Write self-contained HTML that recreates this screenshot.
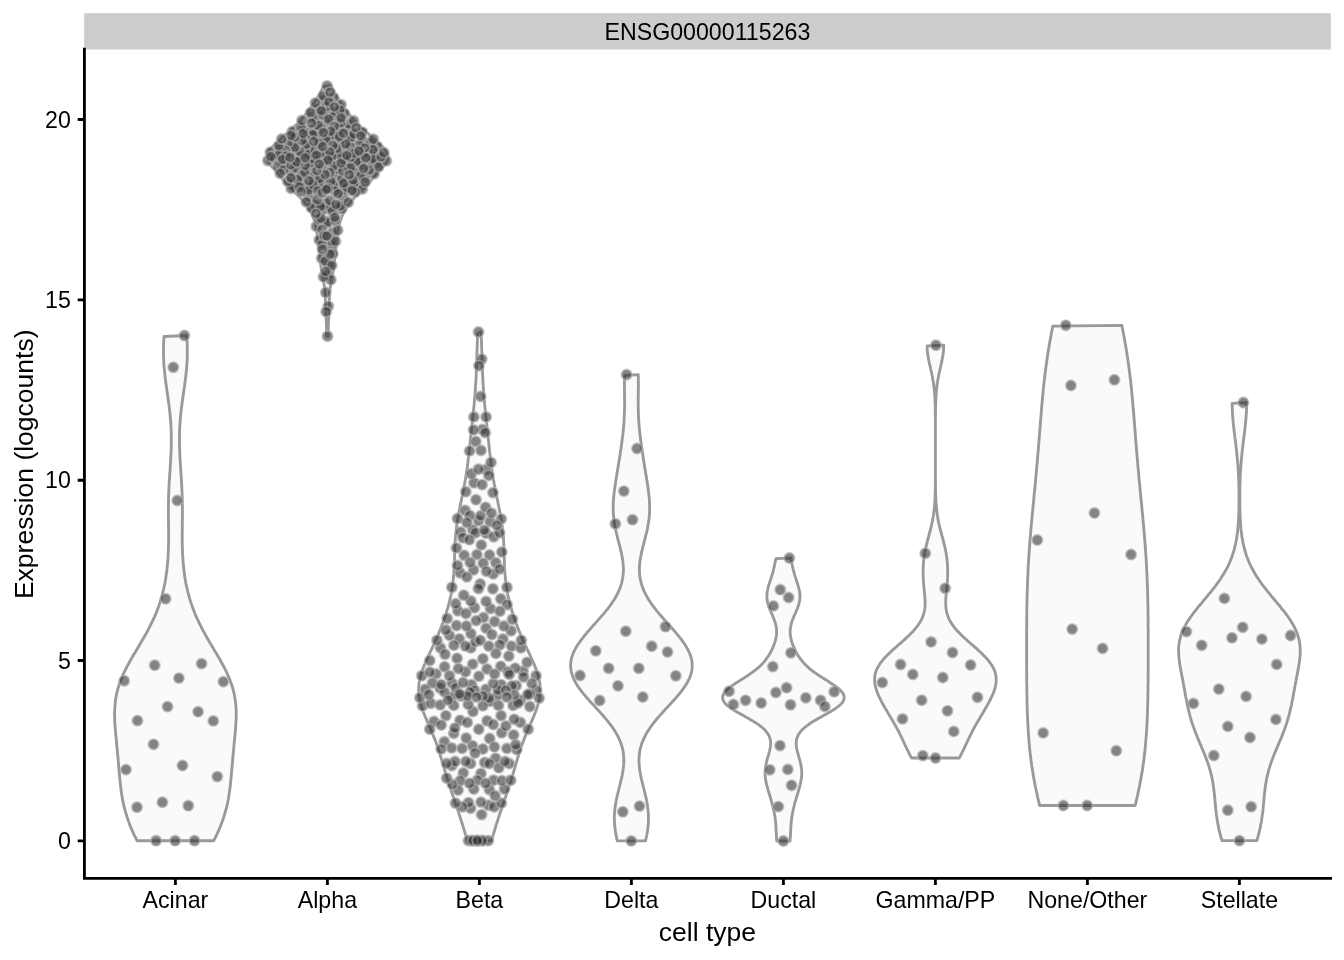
<!DOCTYPE html>
<html><head><meta charset="utf-8">
<style>
html,body{margin:0;padding:0;background:#fff;}
svg{display:block;will-change:transform;}
text{font-family:"Liberation Sans",sans-serif;fill:#000;}
</style></head>
<body>
<svg width="1344" height="960" viewBox="0 0 1344 960">
<rect x="0" y="0" width="1344" height="960" fill="#fff"/>
<!-- strip -->
<rect x="84.2" y="13.2" width="1246.6" height="36.3" fill="#cccccc"/>
<text x="707.4" y="39.8" font-size="23.2" text-anchor="middle">ENSG00000115263</text>
<g fill="#e5e5e5" fill-opacity="0.2" stroke="#999999" stroke-width="2.85" stroke-linejoin="round"><path d="M137.0 840.7 L136.0 838.7 L135.1 836.7 L134.1 834.8 L133.2 832.8 L132.3 830.8 L131.5 828.8 L130.6 826.9 L129.8 824.9 L129.1 822.9 L128.4 820.9 L127.7 818.9 L127.0 817.0 L126.4 815.0 L125.8 813.0 L125.2 811.0 L124.7 809.1 L124.2 807.1 L123.7 805.1 L123.3 803.1 L122.9 801.2 L122.5 799.2 L122.2 797.2 L121.8 795.2 L121.5 793.2 L121.2 791.3 L121.0 789.3 L120.7 787.3 L120.5 785.3 L120.3 783.4 L120.1 781.4 L119.9 779.4 L119.7 777.4 L119.5 775.4 L119.3 773.5 L119.1 771.5 L119.0 769.5 L118.8 767.5 L118.6 765.6 L118.5 763.6 L118.3 761.6 L118.1 759.6 L118.0 757.7 L117.8 755.7 L117.6 753.7 L117.4 751.7 L117.2 749.7 L117.0 747.8 L116.8 745.8 L116.7 743.8 L116.5 741.8 L116.3 739.9 L116.1 737.9 L115.9 735.9 L115.7 733.9 L115.5 731.9 L115.3 730.0 L115.2 728.0 L115.0 726.0 L114.9 724.0 L114.8 722.1 L114.7 720.1 L114.7 718.1 L114.6 716.1 L114.6 714.2 L114.6 712.2 L114.7 710.2 L114.8 708.2 L114.9 706.2 L115.1 704.3 L115.3 702.3 L115.5 700.3 L115.8 698.3 L116.2 696.4 L116.5 694.4 L117.0 692.4 L117.5 690.4 L118.0 688.4 L118.6 686.5 L119.2 684.5 L119.9 682.5 L120.7 680.5 L121.4 678.6 L122.3 676.6 L123.1 674.6 L124.0 672.6 L125.0 670.7 L126.0 668.7 L127.0 666.7 L128.0 664.7 L129.1 662.7 L130.2 660.8 L131.3 658.8 L132.5 656.8 L133.6 654.8 L134.8 652.9 L136.0 650.9 L137.2 648.9 L138.3 646.9 L139.5 644.9 L140.7 643.0 L141.8 641.0 L143.0 639.0 L144.1 637.0 L145.3 635.1 L146.4 633.1 L147.4 631.1 L148.5 629.1 L149.5 627.2 L150.5 625.2 L151.5 623.2 L152.5 621.2 L153.4 619.2 L154.3 617.3 L155.1 615.3 L156.0 613.3 L156.8 611.3 L157.5 609.4 L158.3 607.4 L159.0 605.4 L159.6 603.4 L160.3 601.4 L160.9 599.5 L161.5 597.5 L162.0 595.5 L162.5 593.5 L163.0 591.6 L163.5 589.6 L163.9 587.6 L164.4 585.6 L164.8 583.7 L165.1 581.7 L165.5 579.7 L165.8 577.7 L166.1 575.7 L166.4 573.8 L166.7 571.8 L166.9 569.8 L167.1 567.8 L167.3 565.9 L167.5 563.9 L167.7 561.9 L167.8 559.9 L168.0 557.9 L168.1 556.0 L168.2 554.0 L168.3 552.0 L168.4 550.0 L168.4 548.1 L168.5 546.1 L168.5 544.1 L168.6 542.1 L168.6 540.2 L168.6 538.2 L168.6 536.2 L168.6 534.2 L168.6 532.2 L168.6 530.3 L168.5 528.3 L168.5 526.3 L168.5 524.3 L168.5 522.4 L168.5 520.4 L168.4 518.4 L168.4 516.4 L168.4 514.4 L168.4 512.5 L168.4 510.5 L168.4 508.5 L168.4 506.5 L168.4 504.6 L168.5 502.6 L168.5 500.6 L168.6 498.6 L168.6 496.6 L168.7 494.7 L168.7 492.7 L168.8 490.7 L168.9 488.7 L169.0 486.8 L169.1 484.8 L169.2 482.8 L169.3 480.8 L169.5 478.9 L169.6 476.9 L169.7 474.9 L169.8 472.9 L170.0 470.9 L170.1 469.0 L170.2 467.0 L170.4 465.0 L170.5 463.0 L170.6 461.1 L170.7 459.1 L170.8 457.1 L170.9 455.1 L171.0 453.1 L171.1 451.2 L171.2 449.2 L171.2 447.2 L171.3 445.2 L171.3 443.3 L171.3 441.3 L171.3 439.3 L171.3 437.3 L171.3 435.4 L171.3 433.4 L171.2 431.4 L171.1 429.4 L171.0 427.4 L170.9 425.5 L170.8 423.5 L170.7 421.5 L170.5 419.5 L170.3 417.6 L170.2 415.6 L170.0 413.6 L169.7 411.6 L169.5 409.6 L169.3 407.7 L169.0 405.7 L168.8 403.7 L168.5 401.7 L168.2 399.8 L168.0 397.8 L167.7 395.8 L167.4 393.8 L167.1 391.9 L166.8 389.9 L166.6 387.9 L166.3 385.9 L166.0 383.9 L165.7 382.0 L165.5 380.0 L165.2 378.0 L165.0 376.0 L164.8 374.1 L164.6 372.1 L164.4 370.1 L164.2 368.1 L164.0 366.1 L163.9 364.2 L163.8 362.2 L163.7 360.2 L163.6 358.2 L163.5 356.3 L163.5 354.3 L163.5 352.3 L163.5 350.3 L163.5 348.4 L163.5 346.4 L163.6 344.4 L163.7 342.4 L163.8 340.4 L163.9 338.5 L164.1 336.5 L186.6 335.5 L186.8 337.5 L186.9 339.5 L187.1 341.4 L187.2 343.4 L187.2 345.4 L187.3 347.4 L187.3 349.3 L187.3 351.3 L187.3 353.3 L187.3 355.3 L187.3 357.3 L187.2 359.2 L187.1 361.2 L187.0 363.2 L186.8 365.2 L186.7 367.1 L186.5 369.1 L186.3 371.1 L186.1 373.1 L185.9 375.0 L185.7 377.0 L185.4 379.0 L185.2 381.0 L184.9 383.0 L184.7 384.9 L184.4 386.9 L184.1 388.9 L183.8 390.9 L183.5 392.8 L183.2 394.8 L183.0 396.8 L182.7 398.8 L182.4 400.8 L182.1 402.7 L181.9 404.7 L181.6 406.7 L181.4 408.7 L181.2 410.6 L180.9 412.6 L180.7 414.6 L180.5 416.6 L180.4 418.5 L180.2 420.5 L180.1 422.5 L179.9 424.5 L179.8 426.5 L179.7 428.4 L179.6 430.4 L179.6 432.4 L179.5 434.4 L179.5 436.3 L179.5 438.3 L179.5 440.3 L179.5 442.3 L179.5 444.3 L179.5 446.2 L179.6 448.2 L179.7 450.2 L179.7 452.2 L179.8 454.1 L179.9 456.1 L180.0 458.1 L180.1 460.1 L180.3 462.0 L180.4 464.0 L180.5 466.0 L180.6 468.0 L180.8 470.0 L180.9 471.9 L181.0 473.9 L181.2 475.9 L181.3 477.9 L181.4 479.8 L181.5 481.8 L181.6 483.8 L181.7 485.8 L181.8 487.8 L181.9 489.7 L182.0 491.7 L182.1 493.7 L182.2 495.7 L182.2 497.6 L182.3 499.6 L182.3 501.6 L182.3 503.6 L182.4 505.5 L182.4 507.5 L182.4 509.5 L182.4 511.5 L182.4 513.5 L182.4 515.4 L182.4 517.4 L182.4 519.4 L182.3 521.4 L182.3 523.3 L182.3 525.3 L182.3 527.3 L182.3 529.3 L182.2 531.3 L182.2 533.2 L182.2 535.2 L182.2 537.2 L182.2 539.2 L182.2 541.1 L182.3 543.1 L182.3 545.1 L182.3 547.1 L182.4 549.0 L182.5 551.0 L182.5 553.0 L182.6 555.0 L182.8 557.0 L182.9 558.9 L183.0 560.9 L183.2 562.9 L183.4 564.9 L183.6 566.8 L183.8 568.8 L184.0 570.8 L184.3 572.8 L184.5 574.8 L184.8 576.7 L185.1 578.7 L185.5 580.7 L185.8 582.7 L186.2 584.6 L186.6 586.6 L187.1 588.6 L187.5 590.6 L188.0 592.5 L188.5 594.5 L189.1 596.5 L189.6 598.5 L190.2 600.5 L190.9 602.4 L191.5 604.4 L192.2 606.4 L192.9 608.4 L193.7 610.3 L194.4 612.3 L195.2 614.3 L196.1 616.3 L197.0 618.3 L197.9 620.2 L198.8 622.2 L199.8 624.2 L200.8 626.2 L201.8 628.1 L202.8 630.1 L203.9 632.1 L205.0 634.1 L206.1 636.0 L207.2 638.0 L208.4 640.0 L209.5 642.0 L210.7 644.0 L211.9 645.9 L213.1 647.9 L214.2 649.9 L215.4 651.9 L216.6 653.8 L217.7 655.8 L218.9 657.8 L220.0 659.8 L221.1 661.8 L222.2 663.7 L223.3 665.7 L224.3 667.7 L225.3 669.7 L226.3 671.6 L227.2 673.6 L228.1 675.6 L229.0 677.6 L229.8 679.6 L230.5 681.5 L231.2 683.5 L231.9 685.5 L232.5 687.5 L233.1 689.4 L233.6 691.4 L234.0 693.4 L234.5 695.4 L234.8 697.3 L235.1 699.3 L235.4 701.3 L235.6 703.3 L235.8 705.3 L236.0 707.2 L236.1 709.2 L236.2 711.2 L236.2 713.2 L236.2 715.1 L236.2 717.1 L236.1 719.1 L236.0 721.1 L235.9 723.1 L235.8 725.0 L235.7 727.0 L235.5 729.0 L235.4 731.0 L235.2 732.9 L235.0 734.9 L234.8 736.9 L234.6 738.9 L234.4 740.8 L234.2 742.8 L234.0 744.8 L233.9 746.8 L233.7 748.8 L233.5 750.7 L233.3 752.7 L233.1 754.7 L232.9 756.7 L232.7 758.6 L232.6 760.6 L232.4 762.6 L232.2 764.6 L232.1 766.6 L231.9 768.5 L231.7 770.5 L231.6 772.5 L231.4 774.5 L231.2 776.4 L231.0 778.4 L230.8 780.4 L230.6 782.4 L230.4 784.3 L230.2 786.3 L230.0 788.3 L229.7 790.3 L229.4 792.3 L229.1 794.2 L228.8 796.2 L228.5 798.2 L228.1 800.2 L227.7 802.1 L227.3 804.1 L226.8 806.1 L226.4 808.1 L225.8 810.1 L225.3 812.0 L224.7 814.0 L224.1 816.0 L223.5 818.0 L222.8 819.9 L222.1 821.9 L221.3 823.9 L220.6 825.9 L219.8 827.8 L218.9 829.8 L218.0 831.8 L217.1 833.8 L216.2 835.8 L215.3 837.7 L214.3 839.7 L213.8 840.7Z"/><path d="M326.5 336.2 L326.5 335.3 L326.5 334.3 L326.5 333.3 L326.5 332.3 L326.5 331.4 L326.5 330.4 L326.5 329.4 L326.5 328.4 L326.5 327.4 L326.5 326.5 L326.4 325.5 L326.4 324.5 L326.4 323.5 L326.3 322.5 L326.3 321.6 L326.2 320.6 L326.2 319.6 L326.1 318.6 L326.1 317.6 L326.0 316.7 L325.9 315.7 L325.9 314.7 L325.8 313.7 L325.7 312.7 L325.7 311.8 L325.6 310.8 L325.6 309.8 L325.5 308.8 L325.5 307.8 L325.5 306.9 L325.5 305.9 L325.5 304.9 L325.4 303.9 L325.4 302.9 L325.4 302.0 L325.4 301.0 L325.4 300.0 L325.4 299.0 L325.4 298.0 L325.4 297.1 L325.3 296.1 L325.3 295.1 L325.2 294.1 L325.2 293.1 L325.1 292.2 L325.0 291.2 L324.9 290.2 L324.8 289.2 L324.6 288.2 L324.5 287.3 L324.3 286.3 L324.2 285.3 L324.0 284.3 L323.8 283.3 L323.6 282.4 L323.4 281.4 L323.3 280.4 L323.1 279.4 L322.9 278.4 L322.7 277.5 L322.5 276.5 L322.3 275.5 L322.1 274.5 L322.0 273.5 L321.8 272.6 L321.7 271.6 L321.5 270.6 L321.4 269.6 L321.2 268.6 L321.1 267.7 L321.0 266.7 L320.9 265.7 L320.7 264.7 L320.6 263.7 L320.5 262.8 L320.4 261.8 L320.3 260.8 L320.2 259.8 L320.1 258.8 L319.9 257.9 L319.8 256.9 L319.7 255.9 L319.6 254.9 L319.5 253.9 L319.3 253.0 L319.2 252.0 L319.1 251.0 L318.9 250.0 L318.8 249.0 L318.7 248.1 L318.6 247.1 L318.4 246.1 L318.3 245.1 L318.2 244.1 L318.1 243.2 L317.9 242.2 L317.8 241.2 L317.7 240.2 L317.6 239.2 L317.5 238.3 L317.4 237.3 L317.3 236.3 L317.2 235.3 L317.1 234.3 L317.0 233.4 L316.9 232.4 L316.7 231.4 L316.6 230.4 L316.4 229.4 L316.3 228.5 L316.1 227.5 L315.9 226.5 L315.7 225.5 L315.5 224.5 L315.3 223.6 L315.0 222.6 L314.7 221.6 L314.4 220.6 L314.1 219.6 L313.7 218.7 L313.4 217.7 L313.0 216.7 L312.6 215.7 L312.1 214.7 L311.7 213.8 L311.2 212.8 L310.7 211.8 L310.2 210.8 L309.6 209.9 L309.0 208.9 L308.4 207.9 L307.8 206.9 L307.2 205.9 L306.5 205.0 L305.7 204.0 L305.0 203.0 L304.2 202.0 L303.4 201.0 L302.5 200.1 L301.6 199.1 L300.7 198.1 L299.7 197.1 L298.7 196.1 L297.7 195.2 L296.7 194.2 L295.6 193.2 L294.6 192.2 L293.6 191.2 L292.5 190.3 L291.5 189.3 L290.6 188.3 L289.6 187.3 L288.7 186.3 L287.8 185.4 L286.9 184.4 L286.1 183.4 L285.3 182.4 L284.5 181.4 L283.7 180.5 L283.0 179.5 L282.2 178.5 L281.4 177.5 L280.6 176.5 L279.8 175.6 L279.0 174.6 L278.2 173.6 L277.3 172.6 L276.4 171.6 L275.5 170.7 L274.6 169.7 L273.7 168.7 L272.7 167.7 L271.9 166.7 L271.0 165.8 L270.2 164.8 L269.4 163.8 L268.7 162.8 L268.1 161.8 L267.6 160.9 L267.2 159.9 L266.9 158.9 L266.7 157.9 L266.6 156.9 L266.7 156.0 L266.8 155.0 L267.1 154.0 L267.5 153.0 L268.1 152.0 L268.7 151.1 L269.4 150.1 L270.2 149.1 L271.0 148.1 L271.9 147.1 L272.9 146.2 L273.9 145.2 L274.9 144.2 L275.9 143.2 L277.0 142.2 L278.1 141.3 L279.2 140.3 L280.3 139.3 L281.4 138.3 L282.5 137.3 L283.6 136.4 L284.7 135.4 L285.8 134.4 L286.9 133.4 L288.0 132.4 L289.1 131.5 L290.2 130.5 L291.3 129.5 L292.4 128.5 L293.4 127.5 L294.5 126.6 L295.5 125.6 L296.5 124.6 L297.5 123.6 L298.4 122.6 L299.4 121.7 L300.3 120.7 L301.2 119.7 L302.0 118.7 L302.8 117.7 L303.7 116.8 L304.5 115.8 L305.2 114.8 L306.0 113.8 L306.7 112.8 L307.5 111.9 L308.2 110.9 L308.9 109.9 L309.6 108.9 L310.3 107.9 L311.0 107.0 L311.7 106.0 L312.4 105.0 L313.1 104.0 L313.7 103.0 L314.4 102.1 L315.1 101.1 L315.7 100.1 L316.3 99.1 L317.0 98.1 L317.6 97.2 L318.2 96.2 L318.8 95.2 L319.4 94.2 L319.9 93.2 L320.5 92.3 L321.0 91.3 L321.5 90.3 L322.0 89.3 L322.4 88.3 L322.9 87.4 L323.3 86.4 L331.3 85.9 L331.7 86.9 L332.1 87.9 L332.6 88.8 L333.1 89.8 L333.5 90.8 L334.1 91.8 L334.6 92.8 L335.1 93.7 L335.7 94.7 L336.3 95.7 L336.9 96.7 L337.5 97.7 L338.1 98.6 L338.8 99.6 L339.4 100.6 L340.1 101.6 L340.7 102.6 L341.4 103.5 L342.1 104.5 L342.8 105.5 L343.5 106.5 L344.1 107.5 L344.8 108.4 L345.5 109.4 L346.3 110.4 L347.0 111.4 L347.7 112.4 L348.4 113.3 L349.2 114.3 L350.0 115.3 L350.7 116.3 L351.5 117.3 L352.4 118.2 L353.2 119.2 L354.1 120.2 L355.0 121.2 L355.9 122.2 L356.8 123.1 L357.8 124.1 L358.8 125.1 L359.8 126.1 L360.8 127.1 L361.9 128.0 L363.0 129.0 L364.0 130.0 L365.1 131.0 L366.2 132.0 L367.3 132.9 L368.4 133.9 L369.5 134.9 L370.6 135.9 L371.7 136.9 L372.9 137.8 L374.0 138.8 L375.1 139.8 L376.2 140.8 L377.3 141.8 L378.3 142.7 L379.4 143.7 L380.4 144.7 L381.4 145.7 L382.4 146.7 L383.4 147.6 L384.2 148.6 L385.0 149.6 L385.8 150.6 L386.4 151.5 L387.0 152.5 L387.5 153.5 L387.8 154.5 L388.1 155.5 L388.2 156.4 L388.2 157.4 L388.1 158.4 L387.8 159.4 L387.4 160.4 L387.0 161.3 L386.4 162.3 L385.8 163.3 L385.0 164.3 L384.2 165.3 L383.4 166.2 L382.5 167.2 L381.6 168.2 L380.7 169.2 L379.8 170.2 L378.9 171.1 L378.0 172.1 L377.1 173.1 L376.2 174.1 L375.4 175.1 L374.6 176.0 L373.8 177.0 L373.0 178.0 L372.2 179.0 L371.5 180.0 L370.7 180.9 L369.9 181.9 L369.1 182.9 L368.3 183.9 L367.4 184.9 L366.6 185.8 L365.7 186.8 L364.7 187.8 L363.8 188.8 L362.8 189.8 L361.8 190.7 L360.7 191.7 L359.7 192.7 L358.7 193.7 L357.6 194.7 L356.6 195.6 L355.6 196.6 L354.6 197.6 L353.7 198.6 L352.8 199.6 L351.9 200.5 L351.0 201.5 L350.2 202.5 L349.4 203.5 L348.7 204.5 L348.0 205.4 L347.3 206.4 L346.7 207.4 L346.1 208.4 L345.5 209.4 L344.9 210.3 L344.4 211.3 L343.9 212.3 L343.4 213.3 L342.9 214.3 L342.5 215.2 L342.0 216.2 L341.6 217.2 L341.3 218.2 L340.9 219.2 L340.6 220.1 L340.2 221.1 L339.9 222.1 L339.7 223.1 L339.4 224.1 L339.2 225.0 L339.0 226.0 L338.8 227.0 L338.6 228.0 L338.4 229.0 L338.3 229.9 L338.1 230.9 L338.0 231.9 L337.9 232.9 L337.8 233.9 L337.7 234.8 L337.6 235.8 L337.4 236.8 L337.3 237.8 L337.2 238.8 L337.1 239.7 L337.0 240.7 L336.9 241.7 L336.8 242.7 L336.7 243.7 L336.6 244.6 L336.4 245.6 L336.3 246.6 L336.2 247.6 L336.0 248.6 L335.9 249.5 L335.8 250.5 L335.7 251.5 L335.5 252.5 L335.4 253.5 L335.3 254.4 L335.2 255.4 L335.0 256.4 L334.9 257.4 L334.8 258.4 L334.7 259.3 L334.6 260.3 L334.5 261.3 L334.3 262.3 L334.2 263.3 L334.1 264.2 L334.0 265.2 L333.9 266.2 L333.8 267.2 L333.6 268.2 L333.5 269.1 L333.4 270.1 L333.2 271.1 L333.1 272.1 L332.9 273.1 L332.7 274.0 L332.6 275.0 L332.4 276.0 L332.2 277.0 L332.0 277.9 L331.8 278.9 L331.6 279.9 L331.5 280.9 L331.3 281.9 L331.1 282.8 L330.9 283.8 L330.7 284.8 L330.5 285.8 L330.4 286.8 L330.2 287.7 L330.1 288.7 L330.0 289.7 L329.9 290.7 L329.8 291.7 L329.7 292.6 L329.6 293.6 L329.5 294.6 L329.5 295.6 L329.5 296.6 L329.4 297.5 L329.4 298.5 L329.4 299.5 L329.4 300.5 L329.4 301.5 L329.4 302.4 L329.4 303.4 L329.3 304.4 L329.3 305.4 L329.3 306.4 L329.3 307.3 L329.3 308.3 L329.2 309.3 L329.2 310.3 L329.1 311.3 L329.1 312.2 L329.0 313.2 L329.0 314.2 L328.9 315.2 L328.8 316.2 L328.8 317.1 L328.7 318.1 L328.6 319.1 L328.6 320.1 L328.5 321.1 L328.5 322.0 L328.4 323.0 L328.4 324.0 L328.4 325.0 L328.3 326.0 L328.3 326.9 L328.3 327.9 L328.3 328.9 L328.3 329.9 L328.3 330.9 L328.3 331.8 L328.3 332.8 L328.3 333.8 L328.3 334.8 L328.3 335.8 L328.3 336.2Z"/><path d="M467.2 840.6 L466.6 838.6 L466.1 836.6 L465.5 834.6 L464.9 832.6 L464.3 830.6 L463.7 828.7 L463.1 826.7 L462.5 824.7 L461.9 822.7 L461.2 820.7 L460.6 818.7 L459.9 816.7 L459.3 814.7 L458.6 812.7 L458.0 810.7 L457.3 808.8 L456.6 806.8 L455.9 804.8 L455.2 802.8 L454.5 800.8 L453.9 798.8 L453.2 796.8 L452.5 794.8 L451.8 792.8 L451.1 790.8 L450.5 788.8 L449.8 786.9 L449.2 784.9 L448.5 782.9 L447.9 780.9 L447.3 778.9 L446.7 776.9 L446.1 774.9 L445.5 772.9 L444.9 770.9 L444.3 768.9 L443.7 766.9 L443.2 765.0 L442.6 763.0 L442.0 761.0 L441.4 759.0 L440.8 757.0 L440.2 755.0 L439.6 753.0 L438.9 751.0 L438.3 749.0 L437.6 747.0 L436.9 745.1 L436.2 743.1 L435.5 741.1 L434.7 739.1 L433.9 737.1 L433.1 735.1 L432.3 733.1 L431.5 731.1 L430.6 729.1 L429.7 727.1 L428.9 725.1 L428.0 723.2 L427.1 721.2 L426.3 719.2 L425.4 717.2 L424.6 715.2 L423.8 713.2 L423.0 711.2 L422.3 709.2 L421.6 707.2 L421.0 705.2 L420.4 703.2 L420.0 701.3 L419.5 699.3 L419.2 697.3 L418.9 695.3 L418.7 693.3 L418.6 691.3 L418.6 689.3 L418.7 687.3 L418.8 685.3 L419.0 683.3 L419.4 681.4 L419.7 679.4 L420.2 677.4 L420.7 675.4 L421.3 673.4 L422.0 671.4 L422.7 669.4 L423.4 667.4 L424.2 665.4 L425.1 663.4 L425.9 661.4 L426.8 659.5 L427.7 657.5 L428.6 655.5 L429.6 653.5 L430.5 651.5 L431.4 649.5 L432.4 647.5 L433.3 645.5 L434.2 643.5 L435.1 641.5 L436.0 639.5 L436.9 637.6 L437.7 635.6 L438.6 633.6 L439.4 631.6 L440.2 629.6 L441.0 627.6 L441.8 625.6 L442.6 623.6 L443.3 621.6 L444.0 619.6 L444.7 617.7 L445.4 615.7 L446.0 613.7 L446.6 611.7 L447.2 609.7 L447.8 607.7 L448.4 605.7 L448.9 603.7 L449.4 601.7 L449.9 599.7 L450.3 597.7 L450.8 595.8 L451.2 593.8 L451.5 591.8 L451.9 589.8 L452.2 587.8 L452.5 585.8 L452.8 583.8 L453.0 581.8 L453.2 579.8 L453.4 577.8 L453.6 575.8 L453.8 573.9 L453.9 571.9 L454.0 569.9 L454.1 567.9 L454.2 565.9 L454.3 563.9 L454.4 561.9 L454.5 559.9 L454.5 557.9 L454.6 555.9 L454.6 554.0 L454.7 552.0 L454.8 550.0 L454.8 548.0 L454.9 546.0 L455.0 544.0 L455.1 542.0 L455.3 540.0 L455.4 538.0 L455.5 536.0 L455.7 534.0 L455.9 532.1 L456.1 530.1 L456.4 528.1 L456.6 526.1 L456.9 524.1 L457.2 522.1 L457.5 520.1 L457.8 518.1 L458.2 516.1 L458.5 514.1 L458.9 512.1 L459.3 510.2 L459.7 508.2 L460.1 506.2 L460.5 504.2 L460.9 502.2 L461.3 500.2 L461.7 498.2 L462.2 496.2 L462.6 494.2 L463.0 492.2 L463.4 490.3 L463.8 488.3 L464.1 486.3 L464.5 484.3 L464.9 482.3 L465.2 480.3 L465.6 478.3 L465.9 476.3 L466.2 474.3 L466.5 472.3 L466.8 470.3 L467.1 468.4 L467.4 466.4 L467.6 464.4 L467.9 462.4 L468.1 460.4 L468.4 458.4 L468.6 456.4 L468.8 454.4 L469.0 452.4 L469.3 450.4 L469.5 448.5 L469.7 446.5 L469.9 444.5 L470.1 442.5 L470.3 440.5 L470.5 438.5 L470.7 436.5 L471.0 434.5 L471.2 432.5 L471.4 430.5 L471.6 428.5 L471.8 426.6 L472.0 424.6 L472.2 422.6 L472.4 420.6 L472.6 418.6 L472.9 416.6 L473.1 414.6 L473.3 412.6 L473.5 410.6 L473.7 408.6 L473.9 406.6 L474.1 404.7 L474.3 402.7 L474.4 400.7 L474.6 398.7 L474.8 396.7 L474.9 394.7 L475.1 392.7 L475.3 390.7 L475.4 388.7 L475.5 386.7 L475.6 384.8 L475.8 382.8 L475.9 380.8 L476.0 378.8 L476.1 376.8 L476.2 374.8 L476.3 372.8 L476.3 370.8 L476.4 368.8 L476.5 366.8 L476.6 364.8 L476.6 362.9 L476.7 360.9 L476.8 358.9 L476.8 356.9 L476.9 354.9 L477.0 352.9 L477.0 350.9 L477.1 348.9 L477.2 346.9 L477.2 344.9 L477.3 342.9 L477.4 341.0 L477.4 339.0 L477.5 337.0 L477.6 335.0 L477.7 333.0 L481.1 332.0 L481.2 334.0 L481.2 336.0 L481.3 338.0 L481.4 340.0 L481.5 342.0 L481.5 343.9 L481.6 345.9 L481.7 347.9 L481.7 349.9 L481.8 351.9 L481.9 353.9 L481.9 355.9 L482.0 357.9 L482.1 359.9 L482.1 361.9 L482.2 363.8 L482.3 365.8 L482.3 367.8 L482.4 369.8 L482.5 371.8 L482.6 373.8 L482.7 375.8 L482.8 377.8 L482.9 379.8 L483.0 381.8 L483.1 383.8 L483.2 385.7 L483.3 387.7 L483.5 389.7 L483.6 391.7 L483.8 393.7 L483.9 395.7 L484.1 397.7 L484.3 399.7 L484.4 401.7 L484.6 403.7 L484.8 405.7 L485.0 407.6 L485.2 409.6 L485.4 411.6 L485.6 413.6 L485.8 415.6 L486.0 417.6 L486.3 419.6 L486.5 421.6 L486.7 423.6 L486.9 425.6 L487.1 427.5 L487.3 429.5 L487.5 431.5 L487.7 433.5 L488.0 435.5 L488.2 437.5 L488.4 439.5 L488.6 441.5 L488.8 443.5 L489.0 445.5 L489.2 447.5 L489.4 449.4 L489.6 451.4 L489.9 453.4 L490.1 455.4 L490.3 457.4 L490.6 459.4 L490.8 461.4 L491.1 463.4 L491.3 465.4 L491.6 467.4 L491.9 469.4 L492.1 471.3 L492.4 473.3 L492.8 475.3 L493.1 477.3 L493.4 479.3 L493.8 481.3 L494.1 483.3 L494.5 485.3 L494.9 487.3 L495.2 489.3 L495.6 491.2 L496.0 493.2 L496.4 495.2 L496.9 497.2 L497.3 499.2 L497.7 501.2 L498.1 503.2 L498.5 505.2 L498.9 507.2 L499.3 509.2 L499.7 511.2 L500.1 513.1 L500.5 515.1 L500.8 517.1 L501.1 519.1 L501.5 521.1 L501.8 523.1 L502.1 525.1 L502.3 527.1 L502.6 529.1 L502.8 531.1 L503.0 533.1 L503.2 535.0 L503.3 537.0 L503.5 539.0 L503.6 541.0 L503.7 543.0 L503.8 545.0 L503.9 547.0 L504.0 549.0 L504.1 551.0 L504.1 553.0 L504.2 554.9 L504.3 556.9 L504.3 558.9 L504.4 560.9 L504.4 562.9 L504.5 564.9 L504.6 566.9 L504.7 568.9 L504.8 570.9 L505.0 572.9 L505.1 574.9 L505.3 576.8 L505.5 578.8 L505.7 580.8 L505.9 582.8 L506.2 584.8 L506.5 586.8 L506.8 588.8 L507.1 590.8 L507.5 592.8 L507.8 594.8 L508.3 596.8 L508.7 598.7 L509.2 600.7 L509.7 602.7 L510.2 604.7 L510.7 606.7 L511.3 608.7 L511.9 610.7 L512.5 612.7 L513.1 614.7 L513.8 616.7 L514.5 618.6 L515.2 620.6 L515.9 622.6 L516.6 624.6 L517.4 626.6 L518.2 628.6 L519.0 630.6 L519.8 632.6 L520.6 634.6 L521.5 636.6 L522.4 638.6 L523.2 640.5 L524.1 642.5 L525.1 644.5 L526.0 646.5 L526.9 648.5 L527.8 650.5 L528.8 652.5 L529.7 654.5 L530.6 656.5 L531.5 658.5 L532.4 660.5 L533.3 662.4 L534.1 664.4 L535.0 666.4 L535.7 668.4 L536.5 670.4 L537.1 672.4 L537.8 674.4 L538.3 676.4 L538.8 678.4 L539.3 680.4 L539.6 682.3 L539.9 684.3 L540.1 686.3 L540.2 688.3 L540.2 690.3 L540.1 692.3 L540.0 694.3 L539.8 696.3 L539.5 698.3 L539.1 700.3 L538.6 702.3 L538.1 704.2 L537.5 706.2 L536.8 708.2 L536.1 710.2 L535.4 712.2 L534.6 714.2 L533.8 716.2 L533.0 718.2 L532.1 720.2 L531.2 722.2 L530.4 724.1 L529.5 726.1 L528.6 728.1 L527.8 730.1 L526.9 732.1 L526.1 734.1 L525.3 736.1 L524.5 738.1 L523.7 740.1 L523.0 742.1 L522.2 744.1 L521.5 746.0 L520.8 748.0 L520.2 750.0 L519.5 752.0 L518.9 754.0 L518.3 756.0 L517.7 758.0 L517.1 760.0 L516.5 762.0 L515.9 764.0 L515.3 766.0 L514.8 767.9 L514.2 769.9 L513.6 771.9 L513.0 773.9 L512.4 775.9 L511.8 777.9 L511.2 779.9 L510.6 781.9 L509.9 783.9 L509.3 785.9 L508.6 787.8 L508.0 789.8 L507.3 791.8 L506.6 793.8 L506.0 795.8 L505.3 797.8 L504.6 799.8 L503.9 801.8 L503.2 803.8 L502.5 805.8 L501.9 807.8 L501.2 809.7 L500.5 811.7 L499.8 813.7 L499.2 815.7 L498.5 817.7 L497.9 819.7 L497.2 821.7 L496.6 823.7 L496.0 825.7 L495.4 827.7 L494.8 829.7 L494.2 831.6 L493.6 833.6 L493.0 835.6 L492.4 837.6 L491.9 839.6 L491.6 840.6Z"/><path d="M617.3 840.9 L616.9 839.1 L616.5 837.2 L616.1 835.4 L615.8 833.6 L615.5 831.8 L615.2 829.9 L615.0 828.1 L614.8 826.3 L614.6 824.5 L614.5 822.6 L614.4 820.8 L614.3 819.0 L614.3 817.2 L614.4 815.3 L614.5 813.5 L614.6 811.7 L614.8 809.9 L615.0 808.0 L615.2 806.2 L615.5 804.4 L615.8 802.6 L616.2 800.7 L616.5 798.9 L616.9 797.1 L617.3 795.3 L617.8 793.4 L618.2 791.6 L618.7 789.8 L619.1 788.0 L619.6 786.1 L620.1 784.3 L620.5 782.5 L621.0 780.7 L621.4 778.8 L621.8 777.0 L622.2 775.2 L622.5 773.4 L622.8 771.5 L623.1 769.7 L623.3 767.9 L623.5 766.1 L623.7 764.2 L623.8 762.4 L623.8 760.6 L623.8 758.8 L623.7 756.9 L623.6 755.1 L623.3 753.3 L623.1 751.5 L622.7 749.6 L622.3 747.8 L621.8 746.0 L621.2 744.2 L620.6 742.3 L619.8 740.5 L619.0 738.7 L618.2 736.9 L617.2 735.0 L616.2 733.2 L615.1 731.4 L613.9 729.6 L612.7 727.7 L611.4 725.9 L610.0 724.1 L608.6 722.3 L607.2 720.4 L605.6 718.6 L604.1 716.8 L602.5 715.0 L600.8 713.1 L599.2 711.3 L597.5 709.5 L595.8 707.7 L594.2 705.8 L592.5 704.0 L590.8 702.2 L589.1 700.4 L587.5 698.5 L585.9 696.7 L584.4 694.9 L582.9 693.1 L581.4 691.2 L580.0 689.4 L578.7 687.6 L577.5 685.8 L576.4 683.9 L575.3 682.1 L574.4 680.3 L573.5 678.5 L572.7 676.6 L572.1 674.8 L571.6 673.0 L571.2 671.2 L570.9 669.3 L570.7 667.5 L570.6 665.7 L570.7 663.9 L570.8 662.0 L571.1 660.2 L571.5 658.4 L572.0 656.6 L572.6 654.7 L573.4 652.9 L574.2 651.1 L575.1 649.3 L576.1 647.4 L577.2 645.6 L578.4 643.8 L579.7 642.0 L581.0 640.1 L582.4 638.3 L583.8 636.5 L585.3 634.7 L586.8 632.8 L588.4 631.0 L590.0 629.2 L591.6 627.4 L593.2 625.5 L594.9 623.7 L596.5 621.9 L598.1 620.1 L599.7 618.2 L601.3 616.4 L602.9 614.6 L604.4 612.8 L605.9 610.9 L607.4 609.1 L608.8 607.3 L610.2 605.5 L611.5 603.6 L612.7 601.8 L613.9 600.0 L615.0 598.2 L616.1 596.3 L617.0 594.5 L618.0 592.7 L618.8 590.9 L619.6 589.0 L620.3 587.2 L620.9 585.4 L621.5 583.6 L621.9 581.7 L622.3 579.9 L622.7 578.1 L622.9 576.3 L623.1 574.4 L623.3 572.6 L623.4 570.8 L623.4 569.0 L623.3 567.1 L623.2 565.3 L623.1 563.5 L622.9 561.7 L622.6 559.8 L622.3 558.0 L622.0 556.2 L621.6 554.4 L621.3 552.5 L620.8 550.7 L620.4 548.9 L620.0 547.1 L619.5 545.2 L619.0 543.4 L618.5 541.6 L618.1 539.8 L617.6 537.9 L617.1 536.1 L616.7 534.3 L616.3 532.5 L615.8 530.6 L615.4 528.8 L615.1 527.0 L614.7 525.2 L614.4 523.3 L614.1 521.5 L613.9 519.7 L613.7 517.9 L613.5 516.0 L613.4 514.2 L613.3 512.4 L613.2 510.6 L613.2 508.7 L613.2 506.9 L613.2 505.1 L613.2 503.3 L613.3 501.4 L613.5 499.6 L613.6 497.8 L613.8 496.0 L614.0 494.1 L614.2 492.3 L614.4 490.5 L614.6 488.7 L614.9 486.8 L615.2 485.0 L615.5 483.2 L615.7 481.4 L616.0 479.5 L616.3 477.7 L616.6 475.9 L616.9 474.1 L617.2 472.2 L617.5 470.4 L617.8 468.6 L618.1 466.8 L618.4 464.9 L618.7 463.1 L619.0 461.3 L619.3 459.5 L619.6 457.6 L619.9 455.8 L620.2 454.0 L620.4 452.2 L620.7 450.3 L621.0 448.5 L621.2 446.7 L621.5 444.9 L621.7 443.0 L622.0 441.2 L622.2 439.4 L622.4 437.6 L622.7 435.7 L622.9 433.9 L623.1 432.1 L623.3 430.3 L623.4 428.4 L623.6 426.6 L623.8 424.8 L623.9 423.0 L624.0 421.1 L624.1 419.3 L624.2 417.5 L624.3 415.7 L624.4 413.8 L624.5 412.0 L624.5 410.2 L624.5 408.4 L624.6 406.5 L624.6 404.7 L624.6 402.9 L624.6 401.1 L624.6 399.2 L624.5 397.4 L624.5 395.6 L624.5 393.8 L624.5 391.9 L624.5 390.1 L624.5 388.3 L624.4 386.5 L624.4 384.6 L624.4 382.8 L624.5 381.0 L624.5 379.2 L624.5 377.3 L624.6 375.5 L638.2 374.6 L638.3 376.4 L638.3 378.3 L638.3 380.1 L638.3 381.9 L638.4 383.7 L638.4 385.6 L638.4 387.4 L638.3 389.2 L638.3 391.0 L638.3 392.9 L638.3 394.7 L638.3 396.5 L638.2 398.3 L638.2 400.2 L638.2 402.0 L638.2 403.8 L638.2 405.6 L638.3 407.5 L638.3 409.3 L638.3 411.1 L638.4 412.9 L638.4 414.8 L638.5 416.6 L638.6 418.4 L638.7 420.2 L638.8 422.1 L639.0 423.9 L639.1 425.7 L639.3 427.5 L639.5 429.4 L639.6 431.2 L639.8 433.0 L640.0 434.8 L640.3 436.7 L640.5 438.5 L640.7 440.3 L640.9 442.1 L641.2 444.0 L641.4 445.8 L641.7 447.6 L642.0 449.4 L642.2 451.3 L642.5 453.1 L642.8 454.9 L643.1 456.7 L643.3 458.6 L643.6 460.4 L643.9 462.2 L644.2 464.0 L644.5 465.9 L644.8 467.7 L645.1 469.5 L645.4 471.3 L645.7 473.2 L646.0 475.0 L646.3 476.8 L646.6 478.6 L646.9 480.5 L647.2 482.3 L647.5 484.1 L647.8 485.9 L648.0 487.8 L648.3 489.6 L648.5 491.4 L648.7 493.2 L648.9 495.1 L649.1 496.9 L649.3 498.7 L649.4 500.5 L649.5 502.4 L649.6 504.2 L649.6 506.0 L649.6 507.8 L649.6 509.7 L649.6 511.5 L649.5 513.3 L649.4 515.1 L649.2 517.0 L649.0 518.8 L648.8 520.6 L648.5 522.4 L648.2 524.3 L647.9 526.1 L647.5 527.9 L647.2 529.7 L646.8 531.6 L646.3 533.4 L645.9 535.2 L645.4 537.0 L645.0 538.9 L644.5 540.7 L644.0 542.5 L643.5 544.3 L643.1 546.2 L642.6 548.0 L642.2 549.8 L641.7 551.6 L641.3 553.5 L641.0 555.3 L640.6 557.1 L640.3 558.9 L640.0 560.8 L639.8 562.6 L639.6 564.4 L639.5 566.2 L639.4 568.1 L639.4 569.9 L639.5 571.7 L639.6 573.5 L639.7 575.4 L640.0 577.2 L640.3 579.0 L640.7 580.8 L641.1 582.7 L641.6 584.5 L642.2 586.3 L642.9 588.1 L643.6 590.0 L644.4 591.8 L645.3 593.6 L646.2 595.4 L647.3 597.3 L648.3 599.1 L649.5 600.9 L650.7 602.7 L652.0 604.6 L653.3 606.4 L654.7 608.2 L656.1 610.0 L657.6 611.9 L659.1 613.7 L660.7 615.5 L662.3 617.3 L663.9 619.2 L665.5 621.0 L667.1 622.8 L668.8 624.6 L670.4 626.5 L672.0 628.3 L673.6 630.1 L675.2 631.9 L676.7 633.8 L678.2 635.6 L679.7 637.4 L681.1 639.2 L682.5 641.1 L683.8 642.9 L685.0 644.7 L686.1 646.5 L687.2 648.4 L688.2 650.2 L689.0 652.0 L689.8 653.8 L690.5 655.7 L691.1 657.5 L691.5 659.3 L691.9 661.1 L692.1 663.0 L692.2 664.8 L692.2 666.6 L692.1 668.4 L691.8 670.3 L691.5 672.1 L691.0 673.9 L690.4 675.7 L689.7 677.6 L688.9 679.4 L688.0 681.2 L687.0 683.0 L685.9 684.9 L684.7 686.7 L683.4 688.5 L682.1 690.3 L680.7 692.2 L679.2 694.0 L677.7 695.8 L676.1 697.6 L674.5 699.5 L672.8 701.3 L671.2 703.1 L669.5 704.9 L667.8 706.8 L666.1 708.6 L664.4 710.4 L662.8 712.2 L661.1 714.1 L659.5 715.9 L657.9 717.7 L656.4 719.5 L654.9 721.4 L653.5 723.2 L652.1 725.0 L650.7 726.8 L649.5 728.7 L648.3 730.5 L647.2 732.3 L646.1 734.1 L645.1 736.0 L644.2 737.8 L643.4 739.6 L642.6 741.4 L641.9 743.3 L641.3 745.1 L640.8 746.9 L640.3 748.7 L639.9 750.6 L639.6 752.4 L639.3 754.2 L639.2 756.0 L639.1 757.9 L639.0 759.7 L639.0 761.5 L639.1 763.3 L639.2 765.2 L639.4 767.0 L639.6 768.8 L639.8 770.6 L640.1 772.5 L640.5 774.3 L640.8 776.1 L641.2 777.9 L641.6 779.8 L642.1 781.6 L642.5 783.4 L643.0 785.2 L643.4 787.1 L643.9 788.9 L644.4 790.7 L644.8 792.5 L645.2 794.4 L645.7 796.2 L646.1 798.0 L646.5 799.8 L646.8 801.7 L647.2 803.5 L647.5 805.3 L647.7 807.1 L647.9 809.0 L648.1 810.8 L648.3 812.6 L648.4 814.4 L648.4 816.3 L648.5 818.1 L648.4 819.9 L648.4 821.7 L648.3 823.6 L648.1 825.4 L648.0 827.2 L647.7 829.0 L647.5 830.9 L647.2 832.7 L646.9 834.5 L646.5 836.3 L646.1 838.2 L645.7 840.0 L645.5 840.9Z"/><path d="M776.8 841.0 L776.7 839.9 L776.6 838.8 L776.5 837.7 L776.4 836.6 L776.4 835.5 L776.3 834.4 L776.3 833.2 L776.2 832.1 L776.1 831.0 L776.1 829.9 L776.0 828.8 L776.0 827.7 L775.9 826.6 L775.8 825.5 L775.8 824.4 L775.7 823.3 L775.6 822.2 L775.5 821.1 L775.3 820.0 L775.2 818.8 L775.1 817.7 L774.9 816.6 L774.7 815.5 L774.5 814.4 L774.3 813.3 L774.1 812.2 L773.9 811.1 L773.7 810.0 L773.4 808.9 L773.1 807.8 L772.9 806.7 L772.6 805.6 L772.3 804.4 L772.0 803.3 L771.7 802.2 L771.4 801.1 L771.1 800.0 L770.8 798.9 L770.4 797.8 L770.1 796.7 L769.8 795.6 L769.4 794.5 L769.1 793.4 L768.8 792.3 L768.4 791.2 L768.1 790.0 L767.8 788.9 L767.5 787.8 L767.2 786.7 L766.9 785.6 L766.6 784.5 L766.3 783.4 L766.1 782.3 L765.9 781.2 L765.7 780.1 L765.5 779.0 L765.4 777.9 L765.2 776.8 L765.2 775.6 L765.1 774.5 L765.1 773.4 L765.1 772.3 L765.1 771.2 L765.2 770.1 L765.3 769.0 L765.4 767.9 L765.6 766.8 L765.8 765.7 L766.0 764.6 L766.2 763.5 L766.5 762.4 L766.7 761.3 L767.0 760.1 L767.3 759.0 L767.6 757.9 L767.9 756.8 L768.3 755.7 L768.6 754.6 L768.9 753.5 L769.2 752.4 L769.5 751.3 L769.7 750.2 L770.0 749.1 L770.2 748.0 L770.4 746.9 L770.5 745.7 L770.6 744.6 L770.6 743.5 L770.6 742.4 L770.5 741.3 L770.4 740.2 L770.1 739.1 L769.8 738.0 L769.4 736.9 L769.0 735.8 L768.4 734.7 L767.7 733.6 L766.9 732.5 L766.0 731.3 L765.1 730.2 L764.0 729.1 L762.8 728.0 L761.4 726.9 L760.0 725.8 L758.5 724.7 L756.9 723.6 L755.2 722.5 L753.4 721.4 L751.6 720.3 L749.7 719.2 L747.7 718.1 L745.8 716.9 L743.8 715.8 L741.8 714.7 L739.8 713.6 L737.8 712.5 L735.9 711.4 L734.1 710.3 L732.4 709.2 L730.7 708.1 L729.2 707.0 L727.8 705.9 L726.5 704.8 L725.4 703.7 L724.5 702.5 L723.8 701.4 L723.2 700.3 L722.8 699.2 L722.6 698.1 L722.6 697.0 L722.8 695.9 L723.2 694.8 L723.7 693.7 L724.4 692.6 L725.3 691.5 L726.4 690.4 L727.5 689.3 L728.8 688.1 L730.2 687.0 L731.7 685.9 L733.3 684.8 L734.9 683.7 L736.6 682.6 L738.4 681.5 L740.1 680.4 L741.9 679.3 L743.6 678.2 L745.3 677.1 L747.1 676.0 L748.7 674.9 L750.3 673.7 L751.9 672.6 L753.4 671.5 L754.9 670.4 L756.3 669.3 L757.6 668.2 L758.9 667.1 L760.1 666.0 L761.2 664.9 L762.3 663.8 L763.3 662.7 L764.3 661.6 L765.2 660.5 L766.0 659.3 L766.8 658.2 L767.6 657.1 L768.3 656.0 L769.0 654.9 L769.7 653.8 L770.3 652.7 L770.9 651.6 L771.5 650.5 L772.0 649.4 L772.5 648.3 L773.0 647.2 L773.5 646.1 L773.9 644.9 L774.3 643.8 L774.7 642.7 L775.0 641.6 L775.4 640.5 L775.7 639.4 L775.9 638.3 L776.1 637.2 L776.3 636.1 L776.5 635.0 L776.6 633.9 L776.6 632.8 L776.6 631.7 L776.6 630.5 L776.5 629.4 L776.4 628.3 L776.3 627.2 L776.1 626.1 L775.8 625.0 L775.5 623.9 L775.2 622.8 L774.9 621.7 L774.5 620.6 L774.1 619.5 L773.7 618.4 L773.2 617.3 L772.7 616.2 L772.3 615.0 L771.8 613.9 L771.3 612.8 L770.8 611.7 L770.3 610.6 L769.9 609.5 L769.4 608.4 L769.0 607.3 L768.6 606.2 L768.3 605.1 L767.9 604.0 L767.7 602.9 L767.4 601.8 L767.2 600.6 L767.1 599.5 L766.9 598.4 L766.9 597.3 L766.9 596.2 L766.9 595.1 L767.0 594.0 L767.1 592.9 L767.2 591.8 L767.4 590.7 L767.7 589.6 L767.9 588.5 L768.2 587.4 L768.5 586.2 L768.8 585.1 L769.2 584.0 L769.5 582.9 L769.9 581.8 L770.3 580.7 L770.6 579.6 L771.0 578.5 L771.3 577.4 L771.7 576.3 L772.0 575.2 L772.4 574.1 L772.7 573.0 L773.0 571.8 L773.3 570.7 L773.5 569.6 L773.8 568.5 L774.1 567.4 L774.3 566.3 L774.5 565.2 L774.8 564.1 L775.0 563.0 L775.2 561.9 L775.4 560.8 L775.6 559.7 L775.9 558.6 L790.8 558.0 L791.0 559.1 L791.3 560.2 L791.5 561.3 L791.7 562.4 L791.9 563.5 L792.1 564.6 L792.4 565.8 L792.6 566.9 L792.9 568.0 L793.1 569.1 L793.4 570.2 L793.7 571.3 L794.0 572.4 L794.3 573.5 L794.6 574.6 L794.9 575.7 L795.3 576.8 L795.6 577.9 L796.0 579.0 L796.4 580.2 L796.7 581.3 L797.1 582.4 L797.4 583.5 L797.8 584.6 L798.1 585.7 L798.4 586.8 L798.7 587.9 L799.0 589.0 L799.3 590.1 L799.5 591.2 L799.6 592.3 L799.8 593.4 L799.9 594.6 L799.9 595.7 L799.9 596.8 L799.9 597.9 L799.8 599.0 L799.7 600.1 L799.5 601.2 L799.3 602.3 L799.0 603.4 L798.7 604.5 L798.4 605.6 L798.0 606.7 L797.6 607.8 L797.2 609.0 L796.7 610.1 L796.2 611.2 L795.8 612.3 L795.3 613.4 L794.8 614.5 L794.3 615.6 L793.8 616.7 L793.4 617.8 L792.9 618.9 L792.5 620.0 L792.1 621.1 L791.7 622.2 L791.4 623.4 L791.1 624.5 L790.9 625.6 L790.6 626.7 L790.5 627.8 L790.3 628.9 L790.2 630.0 L790.2 631.1 L790.2 632.2 L790.2 633.3 L790.3 634.4 L790.4 635.5 L790.6 636.6 L790.8 637.7 L791.0 638.9 L791.3 640.0 L791.6 641.1 L791.9 642.2 L792.3 643.3 L792.7 644.4 L793.1 645.5 L793.6 646.6 L794.0 647.7 L794.5 648.8 L795.1 649.9 L795.6 651.0 L796.2 652.1 L796.8 653.3 L797.5 654.4 L798.1 655.5 L798.8 656.6 L799.6 657.7 L800.4 658.8 L801.2 659.9 L802.1 661.0 L803.0 662.1 L804.0 663.2 L805.0 664.3 L806.2 665.4 L807.3 666.5 L808.5 667.7 L809.8 668.8 L811.2 669.9 L812.6 671.0 L814.1 672.1 L815.7 673.2 L817.3 674.3 L818.9 675.4 L820.6 676.5 L822.3 677.6 L824.1 678.7 L825.8 679.8 L827.6 680.9 L829.3 682.1 L831.0 683.2 L832.7 684.3 L834.3 685.4 L835.8 686.5 L837.3 687.6 L838.6 688.7 L839.9 689.8 L841.0 690.9 L841.9 692.0 L842.7 693.1 L843.4 694.2 L843.8 695.3 L844.1 696.5 L844.2 697.6 L844.1 698.7 L843.8 699.8 L843.3 700.9 L842.7 702.0 L841.8 703.1 L840.8 704.2 L839.6 705.3 L838.3 706.4 L836.9 707.5 L835.3 708.6 L833.6 709.7 L831.8 710.9 L829.9 712.0 L828.0 713.1 L826.0 714.2 L824.0 715.3 L822.0 716.4 L820.1 717.5 L818.1 718.6 L816.2 719.7 L814.3 720.8 L812.5 721.9 L810.7 723.0 L809.1 724.1 L807.5 725.3 L806.1 726.4 L804.7 727.5 L803.4 728.6 L802.3 729.7 L801.2 730.8 L800.3 731.9 L799.5 733.0 L798.7 734.1 L798.1 735.2 L797.6 736.3 L797.2 737.4 L796.8 738.5 L796.5 739.7 L796.4 740.8 L796.2 741.9 L796.2 743.0 L796.2 744.1 L796.3 745.2 L796.4 746.3 L796.5 747.4 L796.7 748.5 L796.9 749.6 L797.2 750.7 L797.5 751.8 L797.8 752.9 L798.1 754.1 L798.4 755.2 L798.7 756.3 L799.0 757.4 L799.3 758.5 L799.6 759.6 L799.9 760.7 L800.2 761.8 L800.5 762.9 L800.7 764.0 L800.9 765.1 L801.1 766.2 L801.3 767.3 L801.5 768.5 L801.6 769.6 L801.7 770.7 L801.7 771.8 L801.7 772.9 L801.7 774.0 L801.7 775.1 L801.6 776.2 L801.5 777.3 L801.4 778.4 L801.2 779.5 L801.0 780.6 L800.8 781.7 L800.6 782.8 L800.3 784.0 L800.1 785.1 L799.8 786.2 L799.5 787.3 L799.2 788.4 L798.9 789.5 L798.5 790.6 L798.2 791.7 L797.9 792.8 L797.5 793.9 L797.2 795.0 L796.9 796.1 L796.5 797.2 L796.2 798.4 L795.9 799.5 L795.6 800.6 L795.2 801.7 L794.9 802.8 L794.6 803.9 L794.3 805.0 L794.1 806.1 L793.8 807.2 L793.5 808.3 L793.3 809.4 L793.0 810.5 L792.8 811.6 L792.6 812.8 L792.4 813.9 L792.2 815.0 L792.0 816.1 L791.8 817.2 L791.7 818.3 L791.5 819.4 L791.4 820.5 L791.3 821.6 L791.2 822.7 L791.1 823.8 L791.0 824.9 L790.9 826.0 L790.9 827.2 L790.8 828.3 L790.7 829.4 L790.7 830.5 L790.6 831.6 L790.6 832.7 L790.5 833.8 L790.5 834.9 L790.4 836.0 L790.3 837.1 L790.2 838.2 L790.2 839.3 L790.1 840.4 L790.0 841.0Z"/><path d="M911.6 758.0 L910.7 756.4 L909.8 754.8 L909.0 753.2 L908.2 751.5 L907.4 749.9 L906.6 748.3 L905.9 746.7 L905.1 745.1 L904.4 743.5 L903.6 741.8 L902.9 740.2 L902.1 738.6 L901.3 737.0 L900.5 735.4 L899.7 733.8 L898.9 732.1 L898.1 730.5 L897.2 728.9 L896.3 727.3 L895.4 725.7 L894.5 724.1 L893.6 722.5 L892.7 720.8 L891.7 719.2 L890.8 717.6 L889.8 716.0 L888.8 714.4 L887.9 712.8 L886.9 711.1 L886.0 709.5 L885.0 707.9 L884.1 706.3 L883.2 704.7 L882.3 703.1 L881.4 701.5 L880.6 699.8 L879.8 698.2 L879.0 696.6 L878.3 695.0 L877.7 693.4 L877.0 691.8 L876.5 690.1 L876.0 688.5 L875.5 686.9 L875.2 685.3 L874.9 683.7 L874.7 682.1 L874.6 680.4 L874.6 678.8 L874.7 677.2 L874.9 675.6 L875.2 674.0 L875.7 672.4 L876.2 670.8 L876.9 669.1 L877.7 667.5 L878.6 665.9 L879.6 664.3 L880.7 662.7 L882.0 661.1 L883.3 659.4 L884.8 657.8 L886.3 656.2 L887.9 654.6 L889.5 653.0 L891.2 651.4 L893.0 649.8 L894.8 648.1 L896.7 646.5 L898.5 644.9 L900.3 643.3 L902.2 641.7 L904.0 640.1 L905.8 638.4 L907.5 636.8 L909.2 635.2 L910.8 633.6 L912.4 632.0 L913.9 630.4 L915.3 628.7 L916.6 627.1 L917.8 625.5 L918.9 623.9 L920.0 622.3 L920.9 620.7 L921.7 619.1 L922.4 617.4 L923.0 615.8 L923.6 614.2 L924.0 612.6 L924.4 611.0 L924.7 609.4 L924.9 607.7 L925.0 606.1 L925.1 604.5 L925.1 602.9 L925.1 601.3 L925.0 599.7 L924.9 598.1 L924.8 596.4 L924.7 594.8 L924.5 593.2 L924.4 591.6 L924.2 590.0 L924.0 588.4 L923.9 586.7 L923.7 585.1 L923.6 583.5 L923.5 581.9 L923.4 580.3 L923.3 578.7 L923.2 577.0 L923.2 575.4 L923.1 573.8 L923.1 572.2 L923.1 570.6 L923.2 569.0 L923.2 567.4 L923.3 565.7 L923.4 564.1 L923.5 562.5 L923.6 560.9 L923.8 559.3 L924.0 557.7 L924.2 556.0 L924.5 554.4 L924.8 552.8 L925.0 551.2 L925.4 549.6 L925.7 548.0 L926.1 546.3 L926.5 544.7 L926.9 543.1 L927.3 541.5 L927.7 539.9 L928.1 538.3 L928.6 536.7 L929.0 535.0 L929.4 533.4 L929.9 531.8 L930.3 530.2 L930.7 528.6 L931.1 527.0 L931.5 525.3 L931.8 523.7 L932.2 522.1 L932.5 520.5 L932.8 518.9 L933.1 517.3 L933.4 515.7 L933.6 514.0 L933.8 512.4 L934.0 510.8 L934.2 509.2 L934.4 507.6 L934.5 506.0 L934.7 504.3 L934.8 502.7 L934.9 501.1 L935.0 499.5 L935.0 497.9 L935.1 496.3 L935.1 494.6 L935.2 493.0 L935.2 491.4 L935.3 489.8 L935.3 488.2 L935.3 486.6 L935.3 485.0 L935.3 483.3 L935.4 481.7 L935.4 480.1 L935.4 478.5 L935.4 476.9 L935.4 475.3 L935.4 473.6 L935.4 472.0 L935.4 470.4 L935.4 468.8 L935.4 467.2 L935.4 465.6 L935.4 464.0 L935.4 462.3 L935.4 460.7 L935.4 459.1 L935.4 457.5 L935.4 455.9 L935.4 454.3 L935.4 452.6 L935.4 451.0 L935.4 449.4 L935.4 447.8 L935.4 446.2 L935.4 444.6 L935.4 442.9 L935.4 441.3 L935.4 439.7 L935.4 438.1 L935.4 436.5 L935.4 434.9 L935.4 433.3 L935.4 431.6 L935.4 430.0 L935.4 428.4 L935.4 426.8 L935.4 425.2 L935.4 423.6 L935.4 421.9 L935.4 420.3 L935.4 418.7 L935.4 417.1 L935.3 415.5 L935.3 413.9 L935.3 412.2 L935.3 410.6 L935.3 409.0 L935.2 407.4 L935.2 405.8 L935.2 404.2 L935.1 402.6 L935.0 400.9 L935.0 399.3 L934.9 397.7 L934.8 396.1 L934.7 394.5 L934.6 392.9 L934.4 391.2 L934.3 389.6 L934.1 388.0 L933.9 386.4 L933.7 384.8 L933.5 383.2 L933.2 381.6 L932.9 379.9 L932.7 378.3 L932.4 376.7 L932.0 375.1 L931.7 373.5 L931.3 371.9 L931.0 370.2 L930.6 368.6 L930.3 367.0 L929.9 365.4 L929.5 363.8 L929.2 362.2 L928.8 360.5 L928.5 358.9 L928.2 357.3 L928.0 355.7 L927.7 354.1 L927.5 352.5 L927.3 350.9 L927.2 349.2 L927.1 347.6 L927.1 346.0 L943.7 345.2 L943.7 346.8 L943.6 348.4 L943.5 350.0 L943.4 351.7 L943.2 353.3 L943.0 354.9 L942.7 356.5 L942.4 358.1 L942.1 359.7 L941.8 361.4 L941.4 363.0 L941.1 364.6 L940.7 366.2 L940.4 367.8 L940.0 369.4 L939.6 371.1 L939.3 372.7 L938.9 374.3 L938.6 375.9 L938.3 377.5 L938.0 379.1 L937.7 380.7 L937.5 382.4 L937.2 384.0 L937.0 385.6 L936.8 387.2 L936.6 388.8 L936.4 390.4 L936.3 392.1 L936.2 393.7 L936.1 395.3 L936.0 396.9 L935.9 398.5 L935.8 400.1 L935.7 401.7 L935.7 403.4 L935.6 405.0 L935.6 406.6 L935.5 408.2 L935.5 409.8 L935.5 411.4 L935.5 413.1 L935.5 414.7 L935.4 416.3 L935.4 417.9 L935.4 419.5 L935.4 421.1 L935.4 422.8 L935.4 424.4 L935.4 426.0 L935.4 427.6 L935.4 429.2 L935.4 430.8 L935.4 432.4 L935.4 434.1 L935.4 435.7 L935.4 437.3 L935.4 438.9 L935.4 440.5 L935.4 442.1 L935.4 443.8 L935.4 445.4 L935.4 447.0 L935.4 448.6 L935.4 450.2 L935.4 451.8 L935.4 453.4 L935.4 455.1 L935.4 456.7 L935.4 458.3 L935.4 459.9 L935.4 461.5 L935.4 463.1 L935.4 464.8 L935.4 466.4 L935.4 468.0 L935.4 469.6 L935.4 471.2 L935.4 472.8 L935.4 474.5 L935.4 476.1 L935.4 477.7 L935.4 479.3 L935.4 480.9 L935.5 482.5 L935.5 484.1 L935.5 485.8 L935.5 487.4 L935.5 489.0 L935.6 490.6 L935.6 492.2 L935.6 493.8 L935.7 495.5 L935.7 497.1 L935.8 498.7 L935.9 500.3 L936.0 501.9 L936.1 503.5 L936.2 505.1 L936.3 506.8 L936.5 508.4 L936.7 510.0 L936.9 511.6 L937.1 513.2 L937.3 514.8 L937.6 516.5 L937.8 518.1 L938.1 519.7 L938.4 521.3 L938.8 522.9 L939.1 524.5 L939.5 526.2 L939.9 527.8 L940.3 529.4 L940.7 531.0 L941.2 532.6 L941.6 534.2 L942.0 535.8 L942.5 537.5 L942.9 539.1 L943.3 540.7 L943.7 542.3 L944.1 543.9 L944.5 545.5 L944.9 547.2 L945.3 548.8 L945.6 550.4 L945.9 552.0 L946.2 553.6 L946.4 555.2 L946.7 556.9 L946.9 558.5 L947.1 560.1 L947.2 561.7 L947.4 563.3 L947.5 564.9 L947.6 566.5 L947.6 568.2 L947.7 569.8 L947.7 571.4 L947.7 573.0 L947.6 574.6 L947.6 576.2 L947.5 577.9 L947.5 579.5 L947.4 581.1 L947.3 582.7 L947.1 584.3 L947.0 585.9 L946.8 587.5 L946.7 589.2 L946.5 590.8 L946.4 592.4 L946.2 594.0 L946.1 595.6 L945.9 597.2 L945.8 598.9 L945.8 600.5 L945.7 602.1 L945.7 603.7 L945.8 605.3 L945.9 606.9 L946.0 608.6 L946.3 610.2 L946.6 611.8 L947.0 613.4 L947.5 615.0 L948.1 616.6 L948.7 618.2 L949.5 619.9 L950.4 621.5 L951.3 623.1 L952.4 624.7 L953.6 626.3 L954.8 627.9 L956.2 629.6 L957.6 631.2 L959.2 632.8 L960.8 634.4 L962.4 636.0 L964.1 637.6 L965.9 639.2 L967.7 640.9 L969.5 642.5 L971.4 644.1 L973.2 645.7 L975.1 647.3 L976.9 648.9 L978.7 650.6 L980.4 652.2 L982.1 653.8 L983.7 655.4 L985.3 657.0 L986.8 658.6 L988.2 660.3 L989.4 661.9 L990.6 663.5 L991.7 665.1 L992.7 666.7 L993.5 668.3 L994.2 669.9 L994.9 671.6 L995.3 673.2 L995.7 674.8 L996.0 676.4 L996.1 678.0 L996.2 679.6 L996.2 681.3 L996.0 682.9 L995.8 684.5 L995.5 686.1 L995.1 687.7 L994.6 689.3 L994.1 691.0 L993.5 692.6 L992.8 694.2 L992.1 695.8 L991.4 697.4 L990.6 699.0 L989.8 700.6 L988.9 702.3 L988.1 703.9 L987.2 705.5 L986.2 707.1 L985.3 708.7 L984.4 710.3 L983.4 712.0 L982.5 713.6 L981.5 715.2 L980.5 716.8 L979.6 718.4 L978.6 720.0 L977.7 721.6 L976.7 723.3 L975.8 724.9 L974.9 726.5 L974.0 728.1 L973.2 729.7 L972.3 731.3 L971.5 733.0 L970.7 734.6 L969.9 736.2 L969.1 737.8 L968.3 739.4 L967.6 741.0 L966.8 742.7 L966.0 744.3 L965.3 745.9 L964.5 747.5 L963.8 749.1 L963.0 750.7 L962.2 752.3 L961.4 754.0 L960.5 755.6 L959.7 757.2 L959.2 758.0Z"/><path d="M1039.6 805.5 L1039.2 803.6 L1038.7 801.7 L1038.3 799.9 L1037.8 798.0 L1037.4 796.1 L1037.0 794.2 L1036.6 792.3 L1036.2 790.5 L1035.8 788.6 L1035.4 786.7 L1035.0 784.8 L1034.7 782.9 L1034.3 781.1 L1034.0 779.2 L1033.6 777.3 L1033.3 775.4 L1033.0 773.5 L1032.7 771.7 L1032.4 769.8 L1032.1 767.9 L1031.8 766.0 L1031.6 764.2 L1031.3 762.3 L1031.0 760.4 L1030.8 758.5 L1030.6 756.6 L1030.4 754.8 L1030.1 752.9 L1029.9 751.0 L1029.7 749.1 L1029.5 747.2 L1029.4 745.4 L1029.2 743.5 L1029.0 741.6 L1028.9 739.7 L1028.7 737.8 L1028.6 736.0 L1028.4 734.1 L1028.3 732.2 L1028.2 730.3 L1028.1 728.4 L1028.0 726.6 L1027.9 724.7 L1027.8 722.8 L1027.7 720.9 L1027.6 719.0 L1027.5 717.2 L1027.4 715.3 L1027.4 713.4 L1027.3 711.5 L1027.2 709.6 L1027.2 707.8 L1027.1 705.9 L1027.1 704.0 L1027.0 702.1 L1027.0 700.3 L1027.0 698.4 L1026.9 696.5 L1026.9 694.6 L1026.9 692.7 L1026.8 690.9 L1026.8 689.0 L1026.8 687.1 L1026.8 685.2 L1026.7 683.3 L1026.7 681.5 L1026.7 679.6 L1026.7 677.7 L1026.7 675.8 L1026.7 673.9 L1026.7 672.1 L1026.6 670.2 L1026.6 668.3 L1026.6 666.4 L1026.6 664.5 L1026.6 662.7 L1026.6 660.8 L1026.6 658.9 L1026.6 657.0 L1026.6 655.1 L1026.6 653.3 L1026.6 651.4 L1026.6 649.5 L1026.6 647.6 L1026.6 645.7 L1026.6 643.9 L1026.6 642.0 L1026.6 640.1 L1026.6 638.2 L1026.6 636.3 L1026.6 634.5 L1026.6 632.6 L1026.6 630.7 L1026.7 628.8 L1026.7 627.0 L1026.7 625.1 L1026.7 623.2 L1026.7 621.3 L1026.7 619.4 L1026.7 617.6 L1026.8 615.7 L1026.8 613.8 L1026.8 611.9 L1026.8 610.0 L1026.9 608.2 L1026.9 606.3 L1026.9 604.4 L1027.0 602.5 L1027.0 600.6 L1027.0 598.8 L1027.1 596.9 L1027.1 595.0 L1027.2 593.1 L1027.2 591.2 L1027.3 589.4 L1027.4 587.5 L1027.4 585.6 L1027.5 583.7 L1027.6 581.8 L1027.6 580.0 L1027.7 578.1 L1027.8 576.2 L1027.9 574.3 L1028.0 572.4 L1028.0 570.6 L1028.1 568.7 L1028.2 566.8 L1028.3 564.9 L1028.4 563.1 L1028.6 561.2 L1028.7 559.3 L1028.8 557.4 L1028.9 555.5 L1029.0 553.7 L1029.2 551.8 L1029.3 549.9 L1029.4 548.0 L1029.6 546.1 L1029.7 544.3 L1029.8 542.4 L1030.0 540.5 L1030.1 538.6 L1030.3 536.7 L1030.5 534.9 L1030.6 533.0 L1030.8 531.1 L1030.9 529.2 L1031.1 527.3 L1031.3 525.5 L1031.4 523.6 L1031.6 521.7 L1031.8 519.8 L1032.0 517.9 L1032.1 516.1 L1032.3 514.2 L1032.5 512.3 L1032.7 510.4 L1032.9 508.5 L1033.0 506.7 L1033.2 504.8 L1033.4 502.9 L1033.6 501.0 L1033.8 499.1 L1033.9 497.3 L1034.1 495.4 L1034.3 493.5 L1034.5 491.6 L1034.7 489.8 L1034.9 487.9 L1035.0 486.0 L1035.2 484.1 L1035.4 482.2 L1035.6 480.4 L1035.7 478.5 L1035.9 476.6 L1036.1 474.7 L1036.3 472.8 L1036.4 471.0 L1036.6 469.1 L1036.8 467.2 L1036.9 465.3 L1037.1 463.4 L1037.3 461.6 L1037.4 459.7 L1037.6 457.8 L1037.7 455.9 L1037.9 454.0 L1038.1 452.2 L1038.2 450.3 L1038.4 448.4 L1038.5 446.5 L1038.7 444.6 L1038.8 442.8 L1039.0 440.9 L1039.1 439.0 L1039.3 437.1 L1039.4 435.2 L1039.6 433.4 L1039.7 431.5 L1039.9 429.6 L1040.0 427.7 L1040.2 425.9 L1040.3 424.0 L1040.5 422.1 L1040.6 420.2 L1040.8 418.3 L1040.9 416.5 L1041.1 414.6 L1041.2 412.7 L1041.4 410.8 L1041.5 408.9 L1041.7 407.1 L1041.8 405.2 L1042.0 403.3 L1042.2 401.4 L1042.3 399.5 L1042.5 397.7 L1042.7 395.8 L1042.9 393.9 L1043.1 392.0 L1043.2 390.1 L1043.4 388.3 L1043.6 386.4 L1043.8 384.5 L1044.0 382.6 L1044.2 380.7 L1044.5 378.9 L1044.7 377.0 L1044.9 375.1 L1045.1 373.2 L1045.4 371.3 L1045.6 369.5 L1045.9 367.6 L1046.1 365.7 L1046.4 363.8 L1046.6 361.9 L1046.9 360.1 L1047.2 358.2 L1047.5 356.3 L1047.7 354.4 L1048.0 352.6 L1048.3 350.7 L1048.6 348.8 L1049.0 346.9 L1049.3 345.0 L1049.6 343.2 L1049.9 341.3 L1050.3 339.4 L1050.6 337.5 L1051.0 335.6 L1051.3 333.8 L1051.7 331.9 L1052.0 330.0 L1052.4 328.1 L1052.8 326.2 L1121.8 325.3 L1122.2 327.2 L1122.6 329.1 L1122.9 330.9 L1123.3 332.8 L1123.7 334.7 L1124.0 336.6 L1124.4 338.5 L1124.7 340.3 L1125.0 342.2 L1125.4 344.1 L1125.7 346.0 L1126.0 347.9 L1126.3 349.7 L1126.6 351.6 L1126.9 353.5 L1127.2 355.4 L1127.5 357.3 L1127.8 359.1 L1128.0 361.0 L1128.3 362.9 L1128.6 364.8 L1128.8 366.6 L1129.1 368.5 L1129.3 370.4 L1129.6 372.3 L1129.8 374.2 L1130.0 376.0 L1130.2 377.9 L1130.5 379.8 L1130.7 381.7 L1130.9 383.6 L1131.1 385.4 L1131.3 387.3 L1131.5 389.2 L1131.7 391.1 L1131.8 393.0 L1132.0 394.8 L1132.2 396.7 L1132.4 398.6 L1132.5 400.5 L1132.7 402.4 L1132.9 404.2 L1133.0 406.1 L1133.2 408.0 L1133.4 409.9 L1133.5 411.8 L1133.7 413.6 L1133.8 415.5 L1134.0 417.4 L1134.1 419.3 L1134.3 421.2 L1134.4 423.0 L1134.6 424.9 L1134.7 426.8 L1134.9 428.7 L1135.0 430.5 L1135.2 432.4 L1135.3 434.3 L1135.5 436.2 L1135.6 438.1 L1135.7 439.9 L1135.9 441.8 L1136.0 443.7 L1136.2 445.6 L1136.4 447.5 L1136.5 449.3 L1136.7 451.2 L1136.8 453.1 L1137.0 455.0 L1137.1 456.9 L1137.3 458.7 L1137.5 460.6 L1137.6 462.5 L1137.8 464.4 L1137.9 466.3 L1138.1 468.1 L1138.3 470.0 L1138.5 471.9 L1138.6 473.8 L1138.8 475.7 L1139.0 477.5 L1139.1 479.4 L1139.3 481.3 L1139.5 483.2 L1139.7 485.1 L1139.9 486.9 L1140.0 488.8 L1140.2 490.7 L1140.4 492.6 L1140.6 494.5 L1140.8 496.3 L1140.9 498.2 L1141.1 500.1 L1141.3 502.0 L1141.5 503.8 L1141.7 505.7 L1141.9 507.6 L1142.0 509.5 L1142.2 511.4 L1142.4 513.2 L1142.6 515.1 L1142.8 517.0 L1142.9 518.9 L1143.1 520.8 L1143.3 522.6 L1143.4 524.5 L1143.6 526.4 L1143.8 528.3 L1143.9 530.2 L1144.1 532.0 L1144.3 533.9 L1144.4 535.8 L1144.6 537.7 L1144.7 539.6 L1144.9 541.4 L1145.0 543.3 L1145.2 545.2 L1145.3 547.1 L1145.4 549.0 L1145.6 550.8 L1145.7 552.7 L1145.8 554.6 L1146.0 556.5 L1146.1 558.4 L1146.2 560.2 L1146.3 562.1 L1146.4 564.0 L1146.5 565.9 L1146.6 567.7 L1146.7 569.6 L1146.8 571.5 L1146.9 573.4 L1147.0 575.3 L1147.1 577.1 L1147.1 579.0 L1147.2 580.9 L1147.3 582.8 L1147.3 584.7 L1147.4 586.5 L1147.5 588.4 L1147.5 590.3 L1147.6 592.2 L1147.6 594.1 L1147.7 595.9 L1147.7 597.8 L1147.8 599.7 L1147.8 601.6 L1147.9 603.5 L1147.9 605.3 L1147.9 607.2 L1148.0 609.1 L1148.0 611.0 L1148.0 612.9 L1148.0 614.7 L1148.1 616.6 L1148.1 618.5 L1148.1 620.4 L1148.1 622.3 L1148.1 624.1 L1148.1 626.0 L1148.1 627.9 L1148.2 629.8 L1148.2 631.7 L1148.2 633.5 L1148.2 635.4 L1148.2 637.3 L1148.2 639.2 L1148.2 641.0 L1148.2 642.9 L1148.2 644.8 L1148.2 646.7 L1148.2 648.6 L1148.2 650.4 L1148.2 652.3 L1148.2 654.2 L1148.2 656.1 L1148.2 658.0 L1148.2 659.8 L1148.2 661.7 L1148.2 663.6 L1148.2 665.5 L1148.2 667.4 L1148.2 669.2 L1148.1 671.1 L1148.1 673.0 L1148.1 674.9 L1148.1 676.8 L1148.1 678.6 L1148.1 680.5 L1148.1 682.4 L1148.0 684.3 L1148.0 686.2 L1148.0 688.0 L1148.0 689.9 L1148.0 691.8 L1147.9 693.7 L1147.9 695.6 L1147.9 697.4 L1147.8 699.3 L1147.8 701.2 L1147.7 703.1 L1147.7 704.9 L1147.6 706.8 L1147.6 708.7 L1147.5 710.6 L1147.5 712.5 L1147.4 714.3 L1147.3 716.2 L1147.2 718.1 L1147.2 720.0 L1147.1 721.9 L1147.0 723.7 L1146.9 725.6 L1146.8 727.5 L1146.7 729.4 L1146.5 731.3 L1146.4 733.1 L1146.3 735.0 L1146.1 736.9 L1146.0 738.8 L1145.8 740.7 L1145.7 742.5 L1145.5 744.4 L1145.3 746.3 L1145.2 748.2 L1145.0 750.1 L1144.8 751.9 L1144.6 753.8 L1144.3 755.7 L1144.1 757.6 L1143.9 759.5 L1143.6 761.3 L1143.4 763.2 L1143.1 765.1 L1142.8 767.0 L1142.6 768.9 L1142.3 770.7 L1142.0 772.6 L1141.6 774.5 L1141.3 776.4 L1141.0 778.2 L1140.7 780.1 L1140.3 782.0 L1139.9 783.9 L1139.6 785.8 L1139.2 787.6 L1138.8 789.5 L1138.4 791.4 L1138.0 793.3 L1137.6 795.2 L1137.2 797.0 L1136.7 798.9 L1136.3 800.8 L1135.9 802.7 L1135.4 804.6 L1135.2 805.5Z"/><path d="M1221.9 840.6 L1221.4 838.9 L1220.9 837.2 L1220.5 835.5 L1220.0 833.7 L1219.6 832.0 L1219.2 830.3 L1218.8 828.6 L1218.5 826.9 L1218.1 825.2 L1217.8 823.5 L1217.5 821.7 L1217.2 820.0 L1216.9 818.3 L1216.7 816.6 L1216.4 814.9 L1216.2 813.2 L1216.0 811.5 L1215.8 809.7 L1215.7 808.0 L1215.5 806.3 L1215.3 804.6 L1215.2 802.9 L1215.0 801.2 L1214.9 799.4 L1214.7 797.7 L1214.5 796.0 L1214.4 794.3 L1214.2 792.6 L1214.0 790.9 L1213.8 789.2 L1213.6 787.4 L1213.3 785.7 L1213.1 784.0 L1212.8 782.3 L1212.5 780.6 L1212.2 778.9 L1211.8 777.2 L1211.4 775.4 L1211.0 773.7 L1210.6 772.0 L1210.1 770.3 L1209.6 768.6 L1209.1 766.9 L1208.5 765.2 L1208.0 763.4 L1207.4 761.7 L1206.7 760.0 L1206.1 758.3 L1205.4 756.6 L1204.8 754.9 L1204.1 753.2 L1203.4 751.4 L1202.6 749.7 L1201.9 748.0 L1201.2 746.3 L1200.5 744.6 L1199.7 742.9 L1199.0 741.1 L1198.3 739.4 L1197.6 737.7 L1196.9 736.0 L1196.2 734.3 L1195.5 732.6 L1194.9 730.9 L1194.2 729.1 L1193.6 727.4 L1193.0 725.7 L1192.4 724.0 L1191.9 722.3 L1191.3 720.6 L1190.8 718.9 L1190.3 717.1 L1189.9 715.4 L1189.4 713.7 L1189.0 712.0 L1188.6 710.3 L1188.2 708.6 L1187.8 706.9 L1187.4 705.1 L1187.1 703.4 L1186.7 701.7 L1186.4 700.0 L1186.1 698.3 L1185.7 696.6 L1185.4 694.9 L1185.1 693.1 L1184.8 691.4 L1184.5 689.7 L1184.2 688.0 L1183.9 686.3 L1183.5 684.6 L1183.2 682.8 L1182.9 681.1 L1182.6 679.4 L1182.2 677.7 L1181.9 676.0 L1181.6 674.3 L1181.3 672.6 L1180.9 670.8 L1180.6 669.1 L1180.3 667.4 L1180.0 665.7 L1179.8 664.0 L1179.5 662.3 L1179.3 660.6 L1179.1 658.8 L1178.9 657.1 L1178.8 655.4 L1178.7 653.7 L1178.6 652.0 L1178.6 650.3 L1178.6 648.6 L1178.7 646.8 L1178.9 645.1 L1179.1 643.4 L1179.4 641.7 L1179.7 640.0 L1180.1 638.3 L1180.6 636.6 L1181.1 634.8 L1181.7 633.1 L1182.4 631.4 L1183.2 629.7 L1184.0 628.0 L1184.8 626.3 L1185.8 624.6 L1186.8 622.8 L1187.8 621.1 L1189.0 619.4 L1190.1 617.7 L1191.3 616.0 L1192.6 614.3 L1193.9 612.5 L1195.2 610.8 L1196.6 609.1 L1197.9 607.4 L1199.3 605.7 L1200.8 604.0 L1202.2 602.3 L1203.6 600.5 L1205.1 598.8 L1206.5 597.1 L1207.9 595.4 L1209.3 593.7 L1210.7 592.0 L1212.1 590.3 L1213.4 588.5 L1214.8 586.8 L1216.1 585.1 L1217.3 583.4 L1218.6 581.7 L1219.8 580.0 L1220.9 578.3 L1222.0 576.5 L1223.1 574.8 L1224.1 573.1 L1225.1 571.4 L1226.1 569.7 L1227.0 568.0 L1227.9 566.3 L1228.7 564.5 L1229.5 562.8 L1230.2 561.1 L1230.9 559.4 L1231.5 557.7 L1232.2 556.0 L1232.7 554.2 L1233.3 552.5 L1233.8 550.8 L1234.3 549.1 L1234.7 547.4 L1235.1 545.7 L1235.5 544.0 L1235.9 542.2 L1236.2 540.5 L1236.5 538.8 L1236.8 537.1 L1237.0 535.4 L1237.3 533.7 L1237.5 532.0 L1237.7 530.2 L1237.8 528.5 L1238.0 526.8 L1238.1 525.1 L1238.3 523.4 L1238.4 521.7 L1238.5 520.0 L1238.6 518.2 L1238.7 516.5 L1238.7 514.8 L1238.8 513.1 L1238.9 511.4 L1238.9 509.7 L1239.0 508.0 L1239.0 506.2 L1239.0 504.5 L1239.0 502.8 L1239.0 501.1 L1239.0 499.4 L1239.0 497.7 L1239.0 495.9 L1239.0 494.2 L1239.0 492.5 L1239.0 490.8 L1239.0 489.1 L1238.9 487.4 L1238.9 485.7 L1238.8 483.9 L1238.8 482.2 L1238.7 480.5 L1238.6 478.8 L1238.6 477.1 L1238.5 475.4 L1238.4 473.7 L1238.3 471.9 L1238.2 470.2 L1238.1 468.5 L1238.0 466.8 L1237.9 465.1 L1237.7 463.4 L1237.6 461.7 L1237.4 459.9 L1237.3 458.2 L1237.1 456.5 L1236.9 454.8 L1236.8 453.1 L1236.6 451.4 L1236.4 449.7 L1236.2 447.9 L1236.0 446.2 L1235.8 444.5 L1235.6 442.8 L1235.4 441.1 L1235.2 439.4 L1234.9 437.7 L1234.7 435.9 L1234.5 434.2 L1234.3 432.5 L1234.1 430.8 L1233.9 429.1 L1233.7 427.4 L1233.5 425.6 L1233.3 423.9 L1233.2 422.2 L1233.0 420.5 L1232.9 418.8 L1232.7 417.1 L1232.6 415.4 L1232.5 413.6 L1232.4 411.9 L1232.3 410.2 L1232.2 408.5 L1232.2 406.8 L1232.2 405.1 L1232.1 403.4 L1246.7 402.5 L1246.7 404.2 L1246.6 405.9 L1246.6 407.6 L1246.5 409.4 L1246.5 411.1 L1246.4 412.8 L1246.3 414.5 L1246.1 416.2 L1246.0 417.9 L1245.9 419.6 L1245.7 421.4 L1245.5 423.1 L1245.4 424.8 L1245.2 426.5 L1245.0 428.2 L1244.8 429.9 L1244.6 431.6 L1244.4 433.4 L1244.2 435.1 L1244.0 436.8 L1243.7 438.5 L1243.5 440.2 L1243.3 441.9 L1243.1 443.7 L1242.9 445.4 L1242.7 447.1 L1242.5 448.8 L1242.3 450.5 L1242.1 452.2 L1241.9 453.9 L1241.8 455.7 L1241.6 457.4 L1241.4 459.1 L1241.3 460.8 L1241.1 462.5 L1241.0 464.2 L1240.9 465.9 L1240.8 467.7 L1240.6 469.4 L1240.5 471.1 L1240.4 472.8 L1240.3 474.5 L1240.3 476.2 L1240.2 477.9 L1240.1 479.7 L1240.1 481.4 L1240.0 483.1 L1239.9 484.8 L1239.9 486.5 L1239.9 488.2 L1239.8 489.9 L1239.8 491.7 L1239.8 493.4 L1239.8 495.1 L1239.8 496.8 L1239.8 498.5 L1239.8 500.2 L1239.8 502.0 L1239.8 503.7 L1239.8 505.4 L1239.8 507.1 L1239.9 508.8 L1239.9 510.5 L1240.0 512.2 L1240.0 514.0 L1240.1 515.7 L1240.2 517.4 L1240.3 519.1 L1240.4 520.8 L1240.5 522.5 L1240.6 524.2 L1240.7 526.0 L1240.9 527.7 L1241.0 529.4 L1241.2 531.1 L1241.4 532.8 L1241.7 534.5 L1241.9 536.2 L1242.2 538.0 L1242.5 539.7 L1242.8 541.4 L1243.1 543.1 L1243.5 544.8 L1243.9 546.5 L1244.3 548.2 L1244.8 550.0 L1245.3 551.7 L1245.8 553.4 L1246.3 555.1 L1246.9 556.8 L1247.6 558.5 L1248.3 560.3 L1249.0 562.0 L1249.7 563.7 L1250.5 565.4 L1251.4 567.1 L1252.3 568.8 L1253.2 570.5 L1254.2 572.3 L1255.2 574.0 L1256.2 575.7 L1257.3 577.4 L1258.5 579.1 L1259.6 580.8 L1260.8 582.5 L1262.1 584.3 L1263.4 586.0 L1264.7 587.7 L1266.0 589.4 L1267.4 591.1 L1268.8 592.8 L1270.2 594.5 L1271.6 596.3 L1273.0 598.0 L1274.5 599.7 L1275.9 601.4 L1277.3 603.1 L1278.7 604.8 L1280.2 606.5 L1281.5 608.3 L1282.9 610.0 L1284.3 611.7 L1285.6 613.4 L1286.8 615.1 L1288.1 616.8 L1289.3 618.5 L1290.4 620.3 L1291.5 622.0 L1292.5 623.7 L1293.5 625.4 L1294.4 627.1 L1295.2 628.8 L1296.0 630.6 L1296.7 632.3 L1297.4 634.0 L1297.9 635.7 L1298.4 637.4 L1298.9 639.1 L1299.3 640.8 L1299.6 642.6 L1299.8 644.3 L1300.0 646.0 L1300.1 647.7 L1300.2 649.4 L1300.2 651.1 L1300.2 652.8 L1300.1 654.6 L1300.0 656.3 L1299.8 658.0 L1299.6 659.7 L1299.4 661.4 L1299.2 663.1 L1298.9 664.8 L1298.6 666.6 L1298.3 668.3 L1298.0 670.0 L1297.7 671.7 L1297.4 673.4 L1297.1 675.1 L1296.7 676.8 L1296.4 678.6 L1296.1 680.3 L1295.7 682.0 L1295.4 683.7 L1295.1 685.4 L1294.8 687.1 L1294.5 688.9 L1294.2 690.6 L1293.8 692.3 L1293.5 694.0 L1293.2 695.7 L1292.9 697.4 L1292.6 699.1 L1292.2 700.9 L1291.9 702.6 L1291.6 704.3 L1291.2 706.0 L1290.8 707.7 L1290.4 709.4 L1290.0 711.1 L1289.6 712.9 L1289.2 714.6 L1288.7 716.3 L1288.2 718.0 L1287.7 719.7 L1287.2 721.4 L1286.7 723.1 L1286.1 724.9 L1285.5 726.6 L1284.9 728.3 L1284.3 730.0 L1283.6 731.7 L1282.9 733.4 L1282.3 735.1 L1281.6 736.9 L1280.9 738.6 L1280.1 740.3 L1279.4 742.0 L1278.7 743.7 L1278.0 745.4 L1277.2 747.2 L1276.5 748.9 L1275.8 750.6 L1275.1 752.3 L1274.4 754.0 L1273.7 755.7 L1273.0 757.4 L1272.4 759.2 L1271.7 760.9 L1271.1 762.6 L1270.6 764.3 L1270.0 766.0 L1269.5 767.7 L1268.9 769.4 L1268.5 771.2 L1268.0 772.9 L1267.6 774.6 L1267.2 776.3 L1266.8 778.0 L1266.5 779.7 L1266.2 781.4 L1265.9 783.2 L1265.6 784.9 L1265.3 786.6 L1265.1 788.3 L1264.9 790.0 L1264.7 791.7 L1264.5 793.4 L1264.3 795.2 L1264.2 796.9 L1264.0 798.6 L1263.9 800.3 L1263.7 802.0 L1263.6 803.7 L1263.4 805.4 L1263.2 807.2 L1263.1 808.9 L1262.9 810.6 L1262.7 812.3 L1262.5 814.0 L1262.2 815.7 L1262.0 817.5 L1261.7 819.2 L1261.5 820.9 L1261.2 822.6 L1260.8 824.3 L1260.5 826.0 L1260.2 827.7 L1259.8 829.5 L1259.4 831.2 L1259.0 832.9 L1258.5 834.6 L1258.1 836.3 L1257.6 838.0 L1257.1 839.7 L1256.9 840.6Z"/></g>
<g fill="#333333" fill-opacity="0.6" stroke="#b3b3b3" stroke-opacity="0.6" stroke-width="1.89"><circle cx="184.4" cy="335.5" r="5.2"/><circle cx="173.3" cy="367.3" r="5.2"/><circle cx="177.3" cy="500.5" r="5.2"/><circle cx="165.6" cy="598.8" r="5.2"/><circle cx="154.7" cy="665.2" r="5.2"/><circle cx="201.6" cy="663.6" r="5.2"/><circle cx="124.2" cy="680.8" r="5.2"/><circle cx="178.9" cy="678.1" r="5.2"/><circle cx="223.4" cy="681.6" r="5.2"/><circle cx="167.5" cy="706.6" r="5.2"/><circle cx="198.1" cy="711.7" r="5.2"/><circle cx="137.5" cy="720.6" r="5.2"/><circle cx="213.3" cy="720.9" r="5.2"/><circle cx="153.5" cy="744.3" r="5.2"/><circle cx="126.0" cy="769.6" r="5.2"/><circle cx="182.5" cy="765.5" r="5.2"/><circle cx="217.3" cy="776.6" r="5.2"/><circle cx="137.0" cy="807.2" r="5.2"/><circle cx="162.4" cy="802.2" r="5.2"/><circle cx="188.3" cy="805.7" r="5.2"/><circle cx="156.1" cy="840.7" r="5.2"/><circle cx="175.2" cy="840.7" r="5.2"/><circle cx="194.5" cy="840.7" r="5.2"/><circle cx="317.5" cy="136.3" r="5.2"/><circle cx="308.9" cy="196.6" r="5.2"/><circle cx="343.6" cy="197.5" r="5.2"/><circle cx="317.3" cy="108.9" r="5.2"/><circle cx="330.9" cy="111.6" r="5.2"/><circle cx="310.9" cy="116.8" r="5.2"/><circle cx="309.8" cy="168.7" r="5.2"/><circle cx="294.1" cy="153.6" r="5.2"/><circle cx="301.3" cy="156.2" r="5.2"/><circle cx="312.0" cy="130.5" r="5.2"/><circle cx="297.8" cy="160.0" r="5.2"/><circle cx="336.8" cy="177.1" r="5.2"/><circle cx="326.9" cy="221.3" r="5.2"/><circle cx="335.5" cy="158.1" r="5.2"/><circle cx="337.7" cy="186.3" r="5.2"/><circle cx="333.1" cy="184.7" r="5.2"/><circle cx="321.7" cy="258.3" r="5.2"/><circle cx="357.5" cy="185.6" r="5.2"/><circle cx="316.3" cy="226.4" r="5.2"/><circle cx="318.2" cy="185.9" r="5.2"/><circle cx="309.3" cy="187.8" r="5.2"/><circle cx="328.5" cy="138.4" r="5.2"/><circle cx="315.0" cy="205.0" r="5.2"/><circle cx="338.8" cy="142.2" r="5.2"/><circle cx="318.8" cy="219.6" r="5.2"/><circle cx="316.1" cy="118.6" r="5.2"/><circle cx="267.9" cy="160.6" r="5.2"/><circle cx="348.8" cy="129.9" r="5.2"/><circle cx="322.8" cy="182.5" r="5.2"/><circle cx="377.3" cy="163.8" r="5.2"/><circle cx="333.7" cy="134.9" r="5.2"/><circle cx="348.1" cy="164.3" r="5.2"/><circle cx="311.8" cy="162.6" r="5.2"/><circle cx="311.3" cy="207.7" r="5.2"/><circle cx="291.5" cy="171.5" r="5.2"/><circle cx="342.1" cy="179.0" r="5.2"/><circle cx="270.3" cy="152.1" r="5.2"/><circle cx="306.3" cy="201.9" r="5.2"/><circle cx="343.9" cy="189.8" r="5.2"/><circle cx="334.4" cy="115.8" r="5.2"/><circle cx="274.8" cy="158.4" r="5.2"/><circle cx="363.2" cy="141.3" r="5.2"/><circle cx="374.2" cy="173.8" r="5.2"/><circle cx="326.3" cy="121.5" r="5.2"/><circle cx="279.5" cy="149.2" r="5.2"/><circle cx="312.7" cy="134.6" r="5.2"/><circle cx="282.7" cy="163.3" r="5.2"/><circle cx="313.5" cy="176.6" r="5.2"/><circle cx="305.6" cy="138.2" r="5.2"/><circle cx="331.2" cy="247.5" r="5.2"/><circle cx="362.3" cy="189.1" r="5.2"/><circle cx="362.0" cy="155.9" r="5.2"/><circle cx="312.7" cy="158.8" r="5.2"/><circle cx="336.6" cy="169.1" r="5.2"/><circle cx="341.1" cy="104.6" r="5.2"/><circle cx="310.6" cy="112.6" r="5.2"/><circle cx="344.2" cy="150.3" r="5.2"/><circle cx="292.3" cy="131.5" r="5.2"/><circle cx="328.6" cy="264.8" r="5.2"/><circle cx="350.3" cy="140.2" r="5.2"/><circle cx="293.2" cy="185.2" r="5.2"/><circle cx="325.3" cy="203.3" r="5.2"/><circle cx="308.4" cy="148.3" r="5.2"/><circle cx="358.1" cy="159.5" r="5.2"/><circle cx="343.0" cy="159.1" r="5.2"/><circle cx="319.2" cy="240.0" r="5.2"/><circle cx="323.1" cy="167.0" r="5.2"/><circle cx="323.4" cy="209.4" r="5.2"/><circle cx="341.7" cy="208.9" r="5.2"/><circle cx="351.0" cy="137.6" r="5.2"/><circle cx="306.2" cy="144.9" r="5.2"/><circle cx="277.6" cy="166.4" r="5.2"/><circle cx="323.0" cy="99.7" r="5.2"/><circle cx="300.2" cy="151.6" r="5.2"/><circle cx="323.2" cy="95.8" r="5.2"/><circle cx="293.4" cy="144.1" r="5.2"/><circle cx="362.4" cy="132.1" r="5.2"/><circle cx="327.9" cy="275.0" r="5.2"/><circle cx="369.3" cy="153.9" r="5.2"/><circle cx="353.7" cy="183.8" r="5.2"/><circle cx="315.4" cy="102.9" r="5.2"/><circle cx="377.1" cy="155.1" r="5.2"/><circle cx="339.2" cy="154.4" r="5.2"/><circle cx="370.9" cy="162.1" r="5.2"/><circle cx="302.3" cy="183.5" r="5.2"/><circle cx="355.2" cy="171.8" r="5.2"/><circle cx="325.2" cy="261.1" r="5.2"/><circle cx="319.6" cy="178.6" r="5.2"/><circle cx="303.5" cy="129.4" r="5.2"/><circle cx="320.3" cy="157.1" r="5.2"/><circle cx="283.7" cy="169.7" r="5.2"/><circle cx="327.5" cy="336.2" r="5.2"/><circle cx="331.6" cy="241.3" r="5.2"/><circle cx="300.8" cy="127.3" r="5.2"/><circle cx="330.4" cy="207.3" r="5.2"/><circle cx="365.2" cy="178.0" r="5.2"/><circle cx="373.3" cy="158.5" r="5.2"/><circle cx="295.9" cy="167.9" r="5.2"/><circle cx="339.3" cy="129.0" r="5.2"/><circle cx="332.2" cy="211.3" r="5.2"/><circle cx="362.1" cy="165.1" r="5.2"/><circle cx="332.5" cy="232.5" r="5.2"/><circle cx="301.4" cy="175.6" r="5.2"/><circle cx="290.7" cy="164.8" r="5.2"/><circle cx="349.0" cy="124.0" r="5.2"/><circle cx="309.0" cy="154.2" r="5.2"/><circle cx="329.7" cy="200.4" r="5.2"/><circle cx="294.8" cy="147.3" r="5.2"/><circle cx="291.2" cy="188.4" r="5.2"/><circle cx="330.9" cy="279.7" r="5.2"/><circle cx="288.2" cy="142.5" r="5.2"/><circle cx="296.9" cy="162.0" r="5.2"/><circle cx="377.4" cy="146.4" r="5.2"/><circle cx="330.8" cy="181.2" r="5.2"/><circle cx="356.2" cy="161.5" r="5.2"/><circle cx="336.7" cy="148.5" r="5.2"/><circle cx="315.2" cy="150.0" r="5.2"/><circle cx="302.0" cy="140.6" r="5.2"/><circle cx="359.2" cy="144.6" r="5.2"/><circle cx="360.6" cy="176.1" r="5.2"/><circle cx="308.8" cy="190.1" r="5.2"/><circle cx="327.8" cy="222.6" r="5.2"/><circle cx="285.9" cy="150.6" r="5.2"/><circle cx="340.7" cy="205.9" r="5.2"/><circle cx="350.3" cy="147.0" r="5.2"/><circle cx="371.0" cy="143.0" r="5.2"/><circle cx="278.7" cy="154.9" r="5.2"/><circle cx="304.6" cy="172.5" r="5.2"/><circle cx="312.9" cy="184.4" r="5.2"/><circle cx="327.1" cy="85.9" r="5.2"/><circle cx="334.8" cy="191.1" r="5.2"/><circle cx="355.2" cy="192.1" r="5.2"/><circle cx="305.3" cy="165.5" r="5.2"/><circle cx="321.7" cy="128.4" r="5.2"/><circle cx="332.9" cy="253.8" r="5.2"/><circle cx="372.9" cy="149.6" r="5.2"/><circle cx="330.0" cy="254.2" r="5.2"/><circle cx="326.3" cy="139.8" r="5.2"/><circle cx="320.9" cy="218.3" r="5.2"/><circle cx="319.7" cy="143.4" r="5.2"/><circle cx="335.4" cy="241.2" r="5.2"/><circle cx="323.1" cy="114.8" r="5.2"/><circle cx="326.5" cy="161.1" r="5.2"/><circle cx="322.2" cy="244.3" r="5.2"/><circle cx="350.7" cy="157.2" r="5.2"/><circle cx="297.5" cy="179.4" r="5.2"/><circle cx="365.2" cy="182.1" r="5.2"/><circle cx="302.0" cy="120.4" r="5.2"/><circle cx="340.8" cy="122.7" r="5.2"/><circle cx="354.0" cy="133.9" r="5.2"/><circle cx="295.0" cy="137.1" r="5.2"/><circle cx="313.8" cy="141.5" r="5.2"/><circle cx="325.8" cy="292.5" r="5.2"/><circle cx="378.7" cy="166.7" r="5.2"/><circle cx="286.1" cy="155.9" r="5.2"/><circle cx="324.1" cy="153.0" r="5.2"/><circle cx="280.2" cy="173.3" r="5.2"/><circle cx="309.1" cy="180.8" r="5.2"/><circle cx="369.2" cy="170.1" r="5.2"/><circle cx="320.6" cy="206.6" r="5.2"/><circle cx="318.2" cy="125.4" r="5.2"/><circle cx="346.9" cy="187.4" r="5.2"/><circle cx="322.5" cy="249.2" r="5.2"/><circle cx="317.7" cy="190.7" r="5.2"/><circle cx="364.7" cy="147.9" r="5.2"/><circle cx="343.7" cy="183.0" r="5.2"/><circle cx="386.3" cy="160.9" r="5.2"/><circle cx="322.1" cy="229.6" r="5.2"/><circle cx="333.7" cy="97.7" r="5.2"/><circle cx="324.2" cy="235.8" r="5.2"/><circle cx="326.3" cy="106.6" r="5.2"/><circle cx="331.7" cy="156.4" r="5.2"/><circle cx="354.1" cy="153.3" r="5.2"/><circle cx="365.8" cy="157.7" r="5.2"/><circle cx="332.9" cy="145.4" r="5.2"/><circle cx="345.7" cy="143.8" r="5.2"/><circle cx="344.5" cy="113.6" r="5.2"/><circle cx="350.5" cy="167.7" r="5.2"/><circle cx="321.3" cy="110.7" r="5.2"/><circle cx="305.1" cy="157.8" r="5.2"/><circle cx="317.1" cy="199.7" r="5.2"/><circle cx="287.8" cy="181.4" r="5.2"/><circle cx="381.1" cy="156.9" r="5.2"/><circle cx="333.5" cy="166.1" r="5.2"/><circle cx="329.8" cy="172.6" r="5.2"/><circle cx="326.8" cy="236.1" r="5.2"/><circle cx="338.1" cy="193.8" r="5.2"/><circle cx="299.3" cy="186.8" r="5.2"/><circle cx="340.0" cy="110.0" r="5.2"/><circle cx="335.4" cy="220.8" r="5.2"/><circle cx="303.1" cy="133.4" r="5.2"/><circle cx="328.8" cy="119.3" r="5.2"/><circle cx="329.7" cy="151.9" r="5.2"/><circle cx="331.7" cy="265.5" r="5.2"/><circle cx="373.3" cy="139.2" r="5.2"/><circle cx="316.5" cy="155.3" r="5.2"/><circle cx="301.2" cy="191.5" r="5.2"/><circle cx="342.8" cy="170.8" r="5.2"/><circle cx="278.9" cy="145.7" r="5.2"/><circle cx="334.3" cy="126.2" r="5.2"/><circle cx="322.4" cy="192.8" r="5.2"/><circle cx="323.5" cy="276.9" r="5.2"/><circle cx="328.0" cy="188.2" r="5.2"/><circle cx="325.1" cy="174.6" r="5.2"/><circle cx="330.7" cy="131.3" r="5.2"/><circle cx="353.5" cy="120.7" r="5.2"/><circle cx="316.0" cy="213.6" r="5.2"/><circle cx="316.8" cy="170.5" r="5.2"/><circle cx="352.9" cy="180.0" r="5.2"/><circle cx="323.4" cy="132.4" r="5.2"/><circle cx="328.3" cy="306.2" r="5.2"/><circle cx="339.4" cy="136.5" r="5.2"/><circle cx="349.3" cy="174.8" r="5.2"/><circle cx="327.9" cy="160.1" r="5.2"/><circle cx="334.9" cy="217.3" r="5.2"/><circle cx="336.0" cy="204.5" r="5.2"/><circle cx="325.8" cy="271.5" r="5.2"/><circle cx="341.1" cy="163.0" r="5.2"/><circle cx="328.9" cy="101.9" r="5.2"/><circle cx="319.3" cy="164.0" r="5.2"/><circle cx="356.0" cy="127.8" r="5.2"/><circle cx="383.9" cy="152.7" r="5.2"/><circle cx="359.0" cy="151.0" r="5.2"/><circle cx="311.5" cy="123.1" r="5.2"/><circle cx="326.2" cy="311.7" r="5.2"/><circle cx="322.7" cy="146.5" r="5.2"/><circle cx="290.9" cy="177.8" r="5.2"/><circle cx="343.4" cy="133.2" r="5.2"/><circle cx="334.4" cy="106.9" r="5.2"/><circle cx="348.3" cy="202.2" r="5.2"/><circle cx="352.2" cy="190.6" r="5.2"/><circle cx="330.0" cy="92.2" r="5.2"/><circle cx="291.0" cy="135.5" r="5.2"/><circle cx="363.6" cy="168.5" r="5.2"/><circle cx="282.6" cy="159.4" r="5.2"/><circle cx="326.3" cy="189.4" r="5.2"/><circle cx="346.8" cy="155.5" r="5.2"/><circle cx="360.8" cy="135.8" r="5.2"/><circle cx="341.1" cy="118.0" r="5.2"/><circle cx="289.9" cy="157.4" r="5.2"/><circle cx="337.6" cy="230.2" r="5.2"/><circle cx="281.8" cy="138.9" r="5.2"/><circle cx="270.9" cy="156.6" r="5.2"/><circle cx="434.0" cy="721.4" r="5.2"/><circle cx="471.5" cy="684.6" r="5.2"/><circle cx="493.2" cy="573.9" r="5.2"/><circle cx="497.5" cy="695.5" r="5.2"/><circle cx="475.8" cy="441.5" r="5.2"/><circle cx="482.5" cy="429.5" r="5.2"/><circle cx="480.2" cy="584.0" r="5.2"/><circle cx="489.7" cy="738.5" r="5.2"/><circle cx="452.0" cy="683.0" r="5.2"/><circle cx="529.8" cy="706.5" r="5.2"/><circle cx="490.1" cy="521.6" r="5.2"/><circle cx="477.4" cy="840.6" r="5.2"/><circle cx="472.0" cy="840.6" r="5.2"/><circle cx="504.5" cy="789.1" r="5.2"/><circle cx="481.0" cy="773.4" r="5.2"/><circle cx="477.4" cy="780.2" r="5.2"/><circle cx="486.1" cy="533.2" r="5.2"/><circle cx="476.9" cy="554.6" r="5.2"/><circle cx="489.4" cy="789.6" r="5.2"/><circle cx="520.4" cy="722.4" r="5.2"/><circle cx="470.9" cy="647.9" r="5.2"/><circle cx="429.8" cy="660.5" r="5.2"/><circle cx="513.1" cy="705.4" r="5.2"/><circle cx="474.6" cy="690.3" r="5.2"/><circle cx="493.5" cy="780.2" r="5.2"/><circle cx="422.5" cy="705.9" r="5.2"/><circle cx="494.6" cy="621.5" r="5.2"/><circle cx="445.9" cy="715.6" r="5.2"/><circle cx="503.0" cy="638.9" r="5.2"/><circle cx="520.4" cy="700.2" r="5.2"/><circle cx="470.6" cy="808.3" r="5.2"/><circle cx="501.1" cy="715.6" r="5.2"/><circle cx="457.9" cy="610.8" r="5.2"/><circle cx="453.8" cy="733.3" r="5.2"/><circle cx="463.3" cy="772.9" r="5.2"/><circle cx="500.8" cy="598.8" r="5.2"/><circle cx="436.1" cy="673.9" r="5.2"/><circle cx="486.0" cy="689.3" r="5.2"/><circle cx="477.4" cy="840.6" r="5.2"/><circle cx="487.0" cy="669.0" r="5.2"/><circle cx="490.2" cy="701.2" r="5.2"/><circle cx="478.5" cy="332.0" r="5.2"/><circle cx="523.1" cy="671.2" r="5.2"/><circle cx="473.5" cy="569.9" r="5.2"/><circle cx="460.6" cy="531.9" r="5.2"/><circle cx="465.8" cy="491.7" r="5.2"/><circle cx="511.5" cy="646.1" r="5.2"/><circle cx="460.2" cy="780.7" r="5.2"/><circle cx="493.7" cy="536.8" r="5.2"/><circle cx="459.3" cy="638.9" r="5.2"/><circle cx="473.8" cy="789.1" r="5.2"/><circle cx="484.7" cy="762.5" r="5.2"/><circle cx="499.9" cy="644.7" r="5.2"/><circle cx="470.6" cy="763.5" r="5.2"/><circle cx="536.6" cy="690.3" r="5.2"/><circle cx="444.4" cy="741.7" r="5.2"/><circle cx="449.5" cy="635.4" r="5.2"/><circle cx="511.1" cy="630.9" r="5.2"/><circle cx="490.5" cy="608.6" r="5.2"/><circle cx="468.5" cy="802.6" r="5.2"/><circle cx="499.5" cy="532.8" r="5.2"/><circle cx="487.1" cy="720.8" r="5.2"/><circle cx="507.0" cy="587.3" r="5.2"/><circle cx="483.4" cy="617.5" r="5.2"/><circle cx="451.9" cy="765.6" r="5.2"/><circle cx="451.7" cy="697.1" r="5.2"/><circle cx="475.4" cy="641.6" r="5.2"/><circle cx="501.9" cy="780.7" r="5.2"/><circle cx="486.1" cy="628.2" r="5.2"/><circle cx="483.0" cy="840.6" r="5.2"/><circle cx="503.9" cy="626.0" r="5.2"/><circle cx="516.2" cy="685.6" r="5.2"/><circle cx="501.7" cy="732.8" r="5.2"/><circle cx="460.1" cy="572.8" r="5.2"/><circle cx="506.9" cy="748.4" r="5.2"/><circle cx="473.6" cy="429.9" r="5.2"/><circle cx="455.8" cy="687.7" r="5.2"/><circle cx="455.7" cy="603.7" r="5.2"/><circle cx="500.8" cy="666.3" r="5.2"/><circle cx="480.3" cy="640.3" r="5.2"/><circle cx="480.6" cy="396.4" r="5.2"/><circle cx="486.1" cy="469.6" r="5.2"/><circle cx="513.6" cy="734.9" r="5.2"/><circle cx="523.6" cy="677.0" r="5.2"/><circle cx="473.0" cy="711.5" r="5.2"/><circle cx="515.1" cy="668.1" r="5.2"/><circle cx="440.5" cy="647.9" r="5.2"/><circle cx="501.1" cy="684.6" r="5.2"/><circle cx="489.5" cy="555.0" r="5.2"/><circle cx="469.6" cy="783.3" r="5.2"/><circle cx="453.8" cy="705.4" r="5.2"/><circle cx="478.4" cy="588.5" r="5.2"/><circle cx="508.0" cy="671.7" r="5.2"/><circle cx="421.8" cy="675.7" r="5.2"/><circle cx="498.0" cy="690.0" r="5.2"/><circle cx="495.6" cy="758.3" r="5.2"/><circle cx="512.4" cy="619.3" r="5.2"/><circle cx="474.0" cy="482.8" r="5.2"/><circle cx="430.8" cy="703.3" r="5.2"/><circle cx="466.8" cy="576.9" r="5.2"/><circle cx="469.6" cy="450.9" r="5.2"/><circle cx="488.3" cy="805.2" r="5.2"/><circle cx="474.5" cy="607.7" r="5.2"/><circle cx="482.9" cy="705.9" r="5.2"/><circle cx="419.9" cy="697.6" r="5.2"/><circle cx="457.5" cy="565.4" r="5.2"/><circle cx="520.9" cy="647.9" r="5.2"/><circle cx="464.2" cy="555.3" r="5.2"/><circle cx="539.2" cy="698.1" r="5.2"/><circle cx="458.1" cy="790.1" r="5.2"/><circle cx="509.2" cy="763.5" r="5.2"/><circle cx="489.4" cy="763.5" r="5.2"/><circle cx="465.5" cy="646.1" r="5.2"/><circle cx="470.9" cy="601.0" r="5.2"/><circle cx="507.1" cy="604.6" r="5.2"/><circle cx="518.0" cy="703.0" r="5.2"/><circle cx="494.4" cy="746.9" r="5.2"/><circle cx="451.9" cy="587.3" r="5.2"/><circle cx="472.7" cy="529.6" r="5.2"/><circle cx="470.0" cy="692.0" r="5.2"/><circle cx="462.9" cy="537.7" r="5.2"/><circle cx="505.8" cy="726.0" r="5.2"/><circle cx="485.2" cy="432.6" r="5.2"/><circle cx="460.0" cy="720.3" r="5.2"/><circle cx="440.2" cy="704.9" r="5.2"/><circle cx="455.0" cy="761.5" r="5.2"/><circle cx="472.5" cy="745.8" r="5.2"/><circle cx="530.0" cy="694.0" r="5.2"/><circle cx="482.9" cy="658.8" r="5.2"/><circle cx="478.8" cy="729.2" r="5.2"/><circle cx="501.2" cy="518.9" r="5.2"/><circle cx="476.2" cy="620.6" r="5.2"/><circle cx="429.8" cy="729.2" r="5.2"/><circle cx="485.7" cy="783.3" r="5.2"/><circle cx="452.4" cy="784.4" r="5.2"/><circle cx="489.0" cy="698.0" r="5.2"/><circle cx="488.3" cy="840.6" r="5.2"/><circle cx="470.2" cy="562.4" r="5.2"/><circle cx="468.3" cy="704.4" r="5.2"/><circle cx="446.7" cy="763.5" r="5.2"/><circle cx="491.0" cy="462.5" r="5.2"/><circle cx="437.0" cy="640.3" r="5.2"/><circle cx="466.2" cy="738.0" r="5.2"/><circle cx="454.8" cy="728.1" r="5.2"/><circle cx="482.9" cy="749.0" r="5.2"/><circle cx="473.9" cy="416.9" r="5.2"/><circle cx="440.0" cy="688.0" r="5.2"/><circle cx="481.6" cy="814.6" r="5.2"/><circle cx="481.7" cy="359.1" r="5.2"/><circle cx="499.9" cy="611.2" r="5.2"/><circle cx="512.0" cy="686.0" r="5.2"/><circle cx="514.2" cy="695.0" r="5.2"/><circle cx="496.8" cy="525.2" r="5.2"/><circle cx="478.9" cy="676.2" r="5.2"/><circle cx="429.8" cy="672.1" r="5.2"/><circle cx="495.9" cy="653.4" r="5.2"/><circle cx="478.5" cy="520.7" r="5.2"/><circle cx="468.5" cy="840.6" r="5.2"/><circle cx="463.8" cy="595.2" r="5.2"/><circle cx="488.8" cy="475.4" r="5.2"/><circle cx="457.1" cy="658.3" r="5.2"/><circle cx="481.3" cy="544.9" r="5.2"/><circle cx="486.1" cy="601.4" r="5.2"/><circle cx="491.9" cy="634.5" r="5.2"/><circle cx="445.9" cy="630.0" r="5.2"/><circle cx="498.8" cy="767.7" r="5.2"/><circle cx="527.7" cy="694.5" r="5.2"/><circle cx="473.0" cy="840.6" r="5.2"/><circle cx="453.9" cy="645.2" r="5.2"/><circle cx="444.6" cy="666.8" r="5.2"/><circle cx="472.7" cy="664.1" r="5.2"/><circle cx="493.3" cy="683.5" r="5.2"/><circle cx="482.9" cy="696.0" r="5.2"/><circle cx="465.1" cy="510.4" r="5.2"/><circle cx="461.0" cy="696.0" r="5.2"/><circle cx="447.2" cy="618.4" r="5.2"/><circle cx="478.9" cy="365.8" r="5.2"/><circle cx="495.8" cy="562.8" r="5.2"/><circle cx="476.0" cy="499.7" r="5.2"/><circle cx="432.4" cy="683.0" r="5.2"/><circle cx="482.1" cy="484.6" r="5.2"/><circle cx="536.1" cy="675.7" r="5.2"/><circle cx="444.4" cy="691.9" r="5.2"/><circle cx="475.4" cy="532.8" r="5.2"/><circle cx="481.0" cy="802.1" r="5.2"/><circle cx="482.0" cy="840.6" r="5.2"/><circle cx="508.8" cy="656.1" r="5.2"/><circle cx="467.3" cy="696.0" r="5.2"/><circle cx="488.8" cy="646.1" r="5.2"/><circle cx="459.5" cy="694.0" r="5.2"/><circle cx="499.6" cy="569.1" r="5.2"/><circle cx="469.8" cy="515.4" r="5.2"/><circle cx="470.9" cy="633.6" r="5.2"/><circle cx="425.1" cy="689.3" r="5.2"/><circle cx="480.7" cy="515.8" r="5.2"/><circle cx="475.0" cy="753.1" r="5.2"/><circle cx="485.6" cy="507.3" r="5.2"/><circle cx="463.1" cy="682.5" r="5.2"/><circle cx="441.2" cy="725.0" r="5.2"/><circle cx="457.5" cy="518.5" r="5.2"/><circle cx="466.0" cy="613.5" r="5.2"/><circle cx="501.8" cy="552.0" r="5.2"/><circle cx="510.7" cy="780.2" r="5.2"/><circle cx="531.9" cy="683.5" r="5.2"/><circle cx="448.0" cy="700.0" r="5.2"/><circle cx="471.3" cy="473.7" r="5.2"/><circle cx="509.3" cy="674.4" r="5.2"/><circle cx="462.3" cy="806.8" r="5.2"/><circle cx="465.5" cy="671.7" r="5.2"/><circle cx="458.4" cy="668.6" r="5.2"/><circle cx="505.8" cy="690.3" r="5.2"/><circle cx="481.0" cy="450.4" r="5.2"/><circle cx="505.0" cy="761.5" r="5.2"/><circle cx="465.9" cy="761.5" r="5.2"/><circle cx="528.2" cy="729.2" r="5.2"/><circle cx="498.5" cy="705.4" r="5.2"/><circle cx="456.4" cy="547.9" r="5.2"/><circle cx="494.1" cy="806.8" r="5.2"/><circle cx="451.7" cy="747.9" r="5.2"/><circle cx="501.4" cy="803.1" r="5.2"/><circle cx="506.9" cy="697.1" r="5.2"/><circle cx="516.8" cy="749.5" r="5.2"/><circle cx="515.7" cy="744.8" r="5.2"/><circle cx="492.9" cy="588.8" r="5.2"/><circle cx="493.3" cy="724.5" r="5.2"/><circle cx="484.3" cy="530.1" r="5.2"/><circle cx="456.6" cy="625.5" r="5.2"/><circle cx="446.7" cy="778.1" r="5.2"/><circle cx="441.2" cy="749.0" r="5.2"/><circle cx="467.3" cy="722.4" r="5.2"/><circle cx="462.1" cy="748.4" r="5.2"/><circle cx="478.5" cy="469.2" r="5.2"/><circle cx="527.1" cy="662.3" r="5.2"/><circle cx="477.4" cy="840.6" r="5.2"/><circle cx="476.7" cy="697.1" r="5.2"/><circle cx="483.2" cy="563.2" r="5.2"/><circle cx="469.4" cy="539.7" r="5.2"/><circle cx="466.4" cy="626.0" r="5.2"/><circle cx="441.2" cy="684.6" r="5.2"/><circle cx="491.4" cy="513.1" r="5.2"/><circle cx="486.1" cy="416.9" r="5.2"/><circle cx="494.6" cy="673.9" r="5.2"/><circle cx="521.3" cy="640.3" r="5.2"/><circle cx="486.5" cy="571.3" r="5.2"/><circle cx="455.5" cy="803.1" r="5.2"/><circle cx="449.5" cy="675.7" r="5.2"/><circle cx="445.0" cy="654.3" r="5.2"/><circle cx="495.1" cy="795.8" r="5.2"/><circle cx="514.2" cy="719.3" r="5.2"/><circle cx="493.0" cy="492.6" r="5.2"/><circle cx="466.9" cy="522.5" r="5.2"/><circle cx="428.8" cy="694.5" r="5.2"/><circle cx="626.6" cy="374.6" r="5.2"/><circle cx="637.0" cy="448.5" r="5.2"/><circle cx="623.9" cy="491.1" r="5.2"/><circle cx="632.5" cy="519.7" r="5.2"/><circle cx="615.4" cy="523.8" r="5.2"/><circle cx="625.8" cy="631.2" r="5.2"/><circle cx="665.5" cy="626.7" r="5.2"/><circle cx="651.7" cy="646.2" r="5.2"/><circle cx="595.8" cy="650.8" r="5.2"/><circle cx="667.5" cy="652.0" r="5.2"/><circle cx="608.7" cy="668.3" r="5.2"/><circle cx="638.8" cy="668.3" r="5.2"/><circle cx="580.0" cy="675.5" r="5.2"/><circle cx="675.8" cy="675.8" r="5.2"/><circle cx="618.0" cy="685.8" r="5.2"/><circle cx="599.7" cy="700.5" r="5.2"/><circle cx="642.8" cy="697.0" r="5.2"/><circle cx="622.8" cy="811.8" r="5.2"/><circle cx="639.5" cy="806.1" r="5.2"/><circle cx="631.3" cy="840.9" r="5.2"/><circle cx="789.4" cy="558.0" r="5.2"/><circle cx="780.3" cy="589.7" r="5.2"/><circle cx="788.6" cy="597.5" r="5.2"/><circle cx="773.3" cy="605.9" r="5.2"/><circle cx="790.9" cy="652.8" r="5.2"/><circle cx="772.8" cy="666.6" r="5.2"/><circle cx="786.6" cy="687.7" r="5.2"/><circle cx="775.9" cy="692.5" r="5.2"/><circle cx="729.1" cy="691.2" r="5.2"/><circle cx="834.2" cy="691.7" r="5.2"/><circle cx="745.6" cy="700.3" r="5.2"/><circle cx="761.2" cy="703.0" r="5.2"/><circle cx="733.4" cy="704.5" r="5.2"/><circle cx="790.5" cy="704.8" r="5.2"/><circle cx="805.8" cy="697.8" r="5.2"/><circle cx="820.6" cy="700.3" r="5.2"/><circle cx="824.8" cy="706.4" r="5.2"/><circle cx="780.0" cy="745.6" r="5.2"/><circle cx="769.8" cy="769.8" r="5.2"/><circle cx="787.8" cy="769.4" r="5.2"/><circle cx="791.6" cy="785.3" r="5.2"/><circle cx="778.3" cy="806.6" r="5.2"/><circle cx="783.4" cy="841.0" r="5.2"/><circle cx="935.9" cy="345.2" r="5.2"/><circle cx="925.3" cy="553.3" r="5.2"/><circle cx="945.2" cy="588.3" r="5.2"/><circle cx="931.1" cy="641.9" r="5.2"/><circle cx="952.5" cy="652.5" r="5.2"/><circle cx="900.6" cy="664.5" r="5.2"/><circle cx="970.6" cy="665.0" r="5.2"/><circle cx="912.8" cy="674.4" r="5.2"/><circle cx="942.8" cy="677.5" r="5.2"/><circle cx="882.3" cy="682.5" r="5.2"/><circle cx="921.7" cy="700.2" r="5.2"/><circle cx="977.5" cy="697.3" r="5.2"/><circle cx="947.5" cy="710.8" r="5.2"/><circle cx="902.5" cy="718.9" r="5.2"/><circle cx="953.8" cy="731.4" r="5.2"/><circle cx="922.8" cy="755.6" r="5.2"/><circle cx="935.5" cy="758.0" r="5.2"/><circle cx="1065.8" cy="325.3" r="5.2"/><circle cx="1070.9" cy="385.5" r="5.2"/><circle cx="1114.4" cy="379.8" r="5.2"/><circle cx="1094.4" cy="513.0" r="5.2"/><circle cx="1037.3" cy="540.0" r="5.2"/><circle cx="1131.1" cy="554.5" r="5.2"/><circle cx="1072.2" cy="629.1" r="5.2"/><circle cx="1102.6" cy="648.4" r="5.2"/><circle cx="1043.2" cy="732.9" r="5.2"/><circle cx="1116.3" cy="750.7" r="5.2"/><circle cx="1063.4" cy="805.5" r="5.2"/><circle cx="1087.2" cy="805.5" r="5.2"/><circle cx="1243.4" cy="402.5" r="5.2"/><circle cx="1224.4" cy="598.4" r="5.2"/><circle cx="1186.4" cy="631.6" r="5.2"/><circle cx="1242.7" cy="627.3" r="5.2"/><circle cx="1232.0" cy="637.8" r="5.2"/><circle cx="1261.9" cy="639.1" r="5.2"/><circle cx="1290.6" cy="635.5" r="5.2"/><circle cx="1201.7" cy="645.3" r="5.2"/><circle cx="1276.7" cy="664.4" r="5.2"/><circle cx="1218.8" cy="689.1" r="5.2"/><circle cx="1246.1" cy="696.4" r="5.2"/><circle cx="1193.4" cy="703.4" r="5.2"/><circle cx="1275.9" cy="719.4" r="5.2"/><circle cx="1227.8" cy="726.4" r="5.2"/><circle cx="1250.0" cy="737.5" r="5.2"/><circle cx="1213.8" cy="755.5" r="5.2"/><circle cx="1227.8" cy="810.2" r="5.2"/><circle cx="1251.2" cy="806.7" r="5.2"/><circle cx="1239.5" cy="840.6" r="5.2"/></g>
<!-- axes -->
<g stroke="#000" stroke-width="2.85" fill="none" stroke-linecap="butt">
<path d="M84.4 47.8 V878.4 H1332"/>
<path d="M77.7 840.8 H84.4 M77.7 660.5 H84.4 M77.7 480.2 H84.4 M77.7 299.8 H84.4 M77.7 119.5 H84.4"/>
<path d="M175.4 878.4 V885.1 M327.4 878.4 V885.1 M479.4 878.4 V885.1 M631.4 878.4 V885.1 M783.4 878.4 V885.1 M935.4 878.4 V885.1 M1087.4 878.4 V885.1 M1239.4 878.4 V885.1"/>
</g>
<g font-size="23.2" text-anchor="end">
<text x="70.8" y="848.8">0</text>
<text x="70.8" y="668.5">5</text>
<text x="70.8" y="488.2">10</text>
<text x="70.8" y="307.8">15</text>
<text x="70.8" y="127.8">20</text>
</g>
<g font-size="23.2" text-anchor="middle">
<text x="175.4" y="908.2">Acinar</text>
<text x="327.4" y="908.2">Alpha</text>
<text x="479.4" y="908.2">Beta</text>
<text x="631.4" y="908.2">Delta</text>
<text x="783.4" y="908.2">Ductal</text>
<text x="935.4" y="908.2">Gamma/PP</text>
<text x="1087.4" y="908.2">None/Other</text>
<text x="1239.4" y="908.2">Stellate</text>
</g>
<text x="707.4" y="940.7" font-size="26.5" text-anchor="middle">cell type</text>
<text transform="translate(32.9 464.3) rotate(-90)" x="0" y="0" font-size="26.5" text-anchor="middle">Expression (logcounts)</text>
</svg>
</body></html>
